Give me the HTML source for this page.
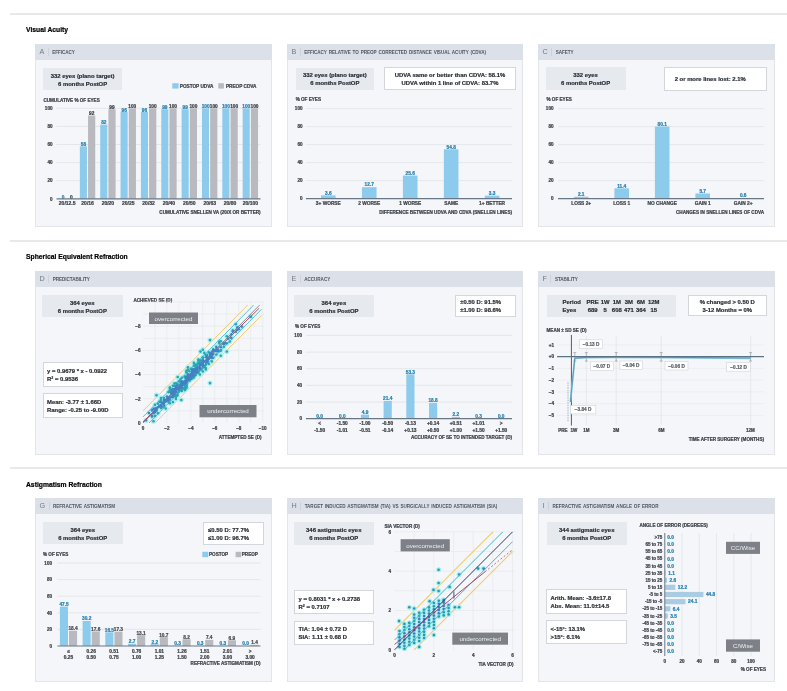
<!DOCTYPE html><html><head><meta charset="utf-8"><title>Refractive Outcomes</title><style>
*{margin:0;padding:0;box-sizing:border-box}
html,body{width:787px;height:691px;overflow:hidden;background:#fff}
body{position:relative;font-family:'Liberation Sans', Arial, sans-serif;color:#2b2f36}
.sep{position:absolute;left:10px;right:0;height:2px;background:#e8e9eb}
h2{position:absolute;left:26px;font-size:6.75px;font-weight:bold;color:#000;-webkit-text-stroke:0.2px #000;line-height:8px;white-space:nowrap}
.panel{position:absolute;background:#f5f6f9;border:1px solid #e3e5e9}
.hdr{position:absolute;left:-1px;top:-1px;right:-1px;height:16px;background:#dce1e9;display:flex;align-items:center;padding-left:4.5px}
.hdr .l{font-size:7.2px;line-height:9px;color:#737880;margin-right:3.6px;position:relative;top:-0.4px}
.hdr .s{width:0.8px;height:8px;background:#cdd2d9;margin-right:3.6px}
.hdr .t{font-size:4.6px;line-height:5px;letter-spacing:-0.05px;word-spacing:0.7px;font-weight:bold;color:#50555d;white-space:nowrap;position:relative;top:0.4px}
.info,.wbox{-webkit-text-stroke:0.2px #2b2f36;position:absolute;font-size:5.9px;font-weight:bold;line-height:8px;white-space:nowrap;display:flex;flex-direction:column;justify-content:center;color:#2b2f36;padding-top:1.2px}
.info{background:#e6e9ee;text-align:center}
.wbox{background:#fff;border:0.8px solid #d3d7dc;line-height:8px}
.wbox.one{}
.info table{border-collapse:collapse;margin:0 auto}
.info td{padding:0 1.1px;font-size:5.9px;line-height:8.6px;text-align:center}
.info td:first-child{text-align:left;padding-right:4.5px}
sup{font-size:3.6px;vertical-align:2.2px;line-height:0}
svg{position:absolute;left:0;top:0}
svg text{font-family:'Liberation Sans', Arial, sans-serif}
</style></head><body>
<div class="sep" style="top:12.5px"></div>
<div class="sep" style="top:240px"></div>
<div class="sep" style="top:467px"></div>
<h2 style="top:25.5px">Visual Acuity</h2>
<h2 style="top:252.5px">Spherical Equivalent Refraction</h2>
<h2 style="top:480.5px">Astigmatism Refraction</h2>
<div class="panel" style="left:35px;top:44px;width:237px;height:183px"><div class="hdr"><span class="l">A</span><span class="s"></span><span class="t">EFFICACY</span></div></div>
<div class="panel" style="left:287px;top:44px;width:236px;height:183px"><div class="hdr"><span class="l">B</span><span class="s"></span><span class="t">EFFICACY RELATIVE TO PREOP CORRECTED DISTANCE VISUAL ACUITY (CDVA)</span></div></div>
<div class="panel" style="left:538px;top:44px;width:237px;height:183px"><div class="hdr"><span class="l">C</span><span class="s"></span><span class="t">SAFETY</span></div></div>
<div class="panel" style="left:35px;top:271px;width:237px;height:184px"><div class="hdr"><span class="l">D</span><span class="s"></span><span class="t">PREDICTABILITY</span></div></div>
<div class="panel" style="left:287px;top:271px;width:236px;height:184px"><div class="hdr"><span class="l">E</span><span class="s"></span><span class="t">ACCURACY</span></div></div>
<div class="panel" style="left:538px;top:271px;width:237px;height:184px"><div class="hdr"><span class="l">F</span><span class="s"></span><span class="t">STABILITY</span></div></div>
<div class="panel" style="left:35px;top:498px;width:237px;height:184px"><div class="hdr"><span class="l">G</span><span class="s"></span><span class="t">REFRACTIVE ASTIGMATISM</span></div></div>
<div class="panel" style="left:287px;top:498px;width:236px;height:184px"><div class="hdr"><span class="l">H</span><span class="s"></span><span class="t">TARGET INDUCED ASTIGMATISM (TIA) VS SURGICALLY INDUCED ASTIGMATISM (SIA)</span></div></div>
<div class="panel" style="left:538px;top:498px;width:237px;height:184px"><div class="hdr"><span class="l">I</span><span class="s"></span><span class="t">REFRACTIVE ASTIGMATISM ANGLE OF ERROR</span></div></div>
<div class="info" style="left:43px;top:68px;width:79.2px;height:22.2px;text-align:center;padding-left:0px"><div>332 eyes (plano target)</div><div>6 months PostOP</div></div>
<div class="info" style="left:295.5px;top:67.6px;width:78.7px;height:22.5px;text-align:center;padding-left:0px"><div>332 eyes (plano target)</div><div>6 months PostOP</div></div>
<div class="wbox" style="left:384px;top:67.3px;width:132px;height:23px;text-align:center;padding-left:0px"><div>UDVA same or better than CDVA: 58.1%</div><div>UDVA within 1 line of CDVA: 83.7%</div></div>
<div class="info" style="left:545.6px;top:67.3px;width:80px;height:22.6px;text-align:center;padding-left:0px"><div>332 eyes</div><div>6 months PostOP</div></div>
<div class="wbox one" style="left:664.1px;top:67px;width:103.4px;height:23.5px;text-align:left;padding-left:9.6px"><div>2 or more lines lost: 2.1%</div></div>
<div class="info" style="left:42px;top:294.6px;width:80.6px;height:22.7px;text-align:center;padding-left:0px"><div>364 eyes</div><div>6 months PostOP</div></div>
<div class="wbox" style="left:43px;top:362px;width:79.7px;height:25.2px;text-align:left;padding-left:3px"><div>y = 0.9679 * x - 0.0922</div><div>R<sup>2</sup> = 0.9536</div></div>
<div class="wbox" style="left:43px;top:393.3px;width:79.5px;height:24.5px;text-align:left;padding-left:3px"><div>Mean: -3.77 &#177; 1.66D</div><div>Range: -0.25 to -9.00D</div></div>
<div class="info" style="left:294.1px;top:294.5px;width:79.6px;height:22.9px;text-align:center;padding-left:0px"><div>364 eyes</div><div>6 months PostOP</div></div>
<div class="wbox" style="left:455.2px;top:294.6px;width:60.4px;height:22.6px;text-align:left;padding-left:4px"><div>&#177;0.50 D: 91.5%</div><div>&#177;1.00 D: 98.6%</div></div>
<div class="info tbl" style="left:546.5px;top:294.5px;width:129px;height:22px"><table><tr><td>Period</td><td>PRE</td><td>1W</td><td>1M</td><td>3M</td><td>6M</td><td>12M</td></tr><tr><td>Eyes</td><td>689</td><td>5</td><td>608</td><td>471</td><td>364</td><td>15</td></tr></table></div>
<div class="wbox" style="left:687.5px;top:294.5px;width:79.5px;height:21px;text-align:center;padding-left:0px"><div>% changed &gt; 0.50 D</div><div>3-12 Months = 0%</div></div>
<div class="info" style="left:42.8px;top:522px;width:79.9px;height:22.3px;text-align:center;padding-left:0px"><div>364 eyes</div><div>6 months PostOP</div></div>
<div class="wbox" style="left:203.1px;top:521.9px;width:60.5px;height:23.4px;text-align:left;padding-left:4px"><div>&#8804;0.50 D: 77.7%</div><div>&#8804;1.00 D: 96.7%</div></div>
<div class="info" style="left:294px;top:522px;width:79.5px;height:22.6px;text-align:center;padding-left:0px"><div>346 astigmatic eyes</div><div>6 months PostOP</div></div>
<div class="wbox" style="left:294px;top:590.2px;width:80px;height:24.3px;text-align:left;padding-left:3.5px"><div>y = 0.8031 * x + 0.2738</div><div>R<sup>2</sup> = 0.7107</div></div>
<div class="wbox" style="left:294px;top:620.7px;width:80px;height:24px;text-align:left;padding-left:3.5px"><div>TIA: 1.04 &#177; 0.72 D</div><div>SIA: 1.11 &#177; 0.68 D</div></div>
<div class="info" style="left:546.5px;top:522px;width:80.5px;height:22.6px;text-align:center;padding-left:0px"><div>344 astigmatic eyes</div><div>6 months PostOP</div></div>
<div class="wbox" style="left:546px;top:589.4px;width:81px;height:25px;text-align:left;padding-left:3.5px"><div>Arith. Mean: -3.6&#177;17.8</div><div>Abs. Mean: 11.0&#177;14.5</div></div>
<div class="wbox" style="left:546px;top:620.2px;width:81px;height:24px;text-align:left;padding-left:3.5px"><div>&lt;-15&#176;: 13.1%</div><div>&gt;15&#176;: 6.1%</div></div>
<svg width="787" height="691" viewBox="0 0 787 691"><rect x="172.30" y="83.20" width="6.30" height="5.40" fill="#8dcbed" /><text x="179.8" y="87.6" font-size="4.7" text-anchor="start" fill="#3d4249" font-weight="bold" stroke="#3d4249" stroke-width="0.22" >POSTOP UDVA</text><rect x="218.30" y="83.20" width="5.60" height="5.40" fill="#b8babf" /><text x="225.9" y="87.6" font-size="4.7" text-anchor="start" fill="#3d4249" font-weight="bold" stroke="#3d4249" stroke-width="0.22" >PREOP CDVA</text><text x="43.4" y="101.7" font-size="4.6" text-anchor="start" fill="#3d4249" font-weight="bold" stroke="#3d4249" stroke-width="0.22" >CUMULATIVE % OF EYES</text><text x="52.5" y="110.0" font-size="4.6" text-anchor="end" fill="#3d4249" font-weight="bold" stroke="#3d4249" stroke-width="0.22" >100</text><text x="52.5" y="128.1" font-size="4.6" text-anchor="end" fill="#3d4249" font-weight="bold" stroke="#3d4249" stroke-width="0.22" >80</text><text x="52.5" y="146.2" font-size="4.6" text-anchor="end" fill="#3d4249" font-weight="bold" stroke="#3d4249" stroke-width="0.22" >60</text><text x="52.5" y="164.3" font-size="4.6" text-anchor="end" fill="#3d4249" font-weight="bold" stroke="#3d4249" stroke-width="0.22" >40</text><text x="52.5" y="182.4" font-size="4.6" text-anchor="end" fill="#3d4249" font-weight="bold" stroke="#3d4249" stroke-width="0.22" >20</text><text x="52.5" y="200.5" font-size="4.6" text-anchor="end" fill="#3d4249" font-weight="bold" stroke="#3d4249" stroke-width="0.22" >0</text><line x1="56.5" y1="108.3" x2="260.5" y2="108.3" stroke="#dfe2e7" stroke-width="0.8" /><line x1="56.5" y1="126.4" x2="260.5" y2="126.4" stroke="#dfe2e7" stroke-width="0.8" /><line x1="56.5" y1="144.5" x2="260.5" y2="144.5" stroke="#dfe2e7" stroke-width="0.8" /><line x1="56.5" y1="162.6" x2="260.5" y2="162.6" stroke="#dfe2e7" stroke-width="0.8" /><line x1="56.5" y1="180.7" x2="260.5" y2="180.7" stroke="#dfe2e7" stroke-width="0.8" /><rect x="59.50" y="198.80" width="7.10" height="0.00" fill="#8dcbed" /><rect x="67.70" y="198.80" width="7.20" height="0.00" fill="#b8babf" /><text x="63.1" y="198.5" font-size="4.75" text-anchor="middle" fill="#2580b0" font-weight="bold" stroke="#2580b0" stroke-width="0.22" >0</text><text x="71.3" y="198.5" font-size="4.75" text-anchor="middle" fill="#3a3e44" font-weight="bold" stroke="#3a3e44" stroke-width="0.22" >0</text><text x="67.2" y="205.2" font-size="5.0" text-anchor="middle" fill="#3d4249" font-weight="bold" stroke="#3d4249" stroke-width="0.22" >20/12.5</text><rect x="79.85" y="146.31" width="7.10" height="52.49" fill="#8dcbed" /><rect x="88.05" y="115.54" width="7.20" height="83.26" fill="#b8babf" /><text x="83.5" y="146.0" font-size="4.75" text-anchor="middle" fill="#2580b0" font-weight="bold" stroke="#2580b0" stroke-width="0.22" >58</text><text x="91.7" y="115.2" font-size="4.75" text-anchor="middle" fill="#3a3e44" font-weight="bold" stroke="#3a3e44" stroke-width="0.22" >92</text><text x="87.6" y="205.2" font-size="5.0" text-anchor="middle" fill="#3d4249" font-weight="bold" stroke="#3d4249" stroke-width="0.22" >20/16</text><rect x="100.20" y="124.59" width="7.10" height="74.21" fill="#8dcbed" /><rect x="108.40" y="109.21" width="7.20" height="89.59" fill="#b8babf" /><text x="103.8" y="124.3" font-size="4.75" text-anchor="middle" fill="#2580b0" font-weight="bold" stroke="#2580b0" stroke-width="0.22" >82</text><text x="112.0" y="108.9" font-size="4.75" text-anchor="middle" fill="#3a3e44" font-weight="bold" stroke="#3a3e44" stroke-width="0.22" >99</text><text x="107.9" y="205.2" font-size="5.0" text-anchor="middle" fill="#3d4249" font-weight="bold" stroke="#3d4249" stroke-width="0.22" >20/20</text><rect x="120.55" y="111.92" width="7.10" height="86.88" fill="#8dcbed" /><rect x="128.75" y="108.30" width="7.20" height="90.50" fill="#b8babf" /><text x="124.2" y="111.6" font-size="4.75" text-anchor="middle" fill="#2580b0" font-weight="bold" stroke="#2580b0" stroke-width="0.22" >96</text><text x="132.3" y="108.0" font-size="4.75" text-anchor="middle" fill="#3a3e44" font-weight="bold" stroke="#3a3e44" stroke-width="0.22" >100</text><text x="128.2" y="205.2" font-size="5.0" text-anchor="middle" fill="#3d4249" font-weight="bold" stroke="#3d4249" stroke-width="0.22" >20/25</text><rect x="140.90" y="111.92" width="7.10" height="86.88" fill="#8dcbed" /><rect x="149.10" y="108.30" width="7.20" height="90.50" fill="#b8babf" /><text x="144.5" y="111.6" font-size="4.75" text-anchor="middle" fill="#2580b0" font-weight="bold" stroke="#2580b0" stroke-width="0.22" >96</text><text x="152.7" y="108.0" font-size="4.75" text-anchor="middle" fill="#3a3e44" font-weight="bold" stroke="#3a3e44" stroke-width="0.22" >100</text><text x="148.6" y="205.2" font-size="5.0" text-anchor="middle" fill="#3d4249" font-weight="bold" stroke="#3d4249" stroke-width="0.22" >20/32</text><rect x="161.25" y="109.21" width="7.10" height="89.59" fill="#8dcbed" /><rect x="169.45" y="108.30" width="7.20" height="90.50" fill="#b8babf" /><text x="164.8" y="108.9" font-size="4.75" text-anchor="middle" fill="#2580b0" font-weight="bold" stroke="#2580b0" stroke-width="0.22" >99</text><text x="173.0" y="108.0" font-size="4.75" text-anchor="middle" fill="#3a3e44" font-weight="bold" stroke="#3a3e44" stroke-width="0.22" >100</text><text x="168.9" y="205.2" font-size="5.0" text-anchor="middle" fill="#3d4249" font-weight="bold" stroke="#3d4249" stroke-width="0.22" >20/40</text><rect x="181.60" y="109.21" width="7.10" height="89.59" fill="#8dcbed" /><rect x="189.80" y="108.30" width="7.20" height="90.50" fill="#b8babf" /><text x="185.2" y="108.9" font-size="4.75" text-anchor="middle" fill="#2580b0" font-weight="bold" stroke="#2580b0" stroke-width="0.22" >99</text><text x="193.4" y="108.0" font-size="4.75" text-anchor="middle" fill="#3a3e44" font-weight="bold" stroke="#3a3e44" stroke-width="0.22" >100</text><text x="189.3" y="205.2" font-size="5.0" text-anchor="middle" fill="#3d4249" font-weight="bold" stroke="#3d4249" stroke-width="0.22" >20/50</text><rect x="201.95" y="108.30" width="7.10" height="90.50" fill="#8dcbed" /><rect x="210.15" y="108.30" width="7.20" height="90.50" fill="#b8babf" /><text x="205.6" y="108.0" font-size="4.75" text-anchor="middle" fill="#2580b0" font-weight="bold" stroke="#2580b0" stroke-width="0.22" >100</text><text x="213.8" y="108.0" font-size="4.75" text-anchor="middle" fill="#3a3e44" font-weight="bold" stroke="#3a3e44" stroke-width="0.22" >100</text><text x="209.7" y="205.2" font-size="5.0" text-anchor="middle" fill="#3d4249" font-weight="bold" stroke="#3d4249" stroke-width="0.22" >20/63</text><rect x="222.30" y="108.30" width="7.10" height="90.50" fill="#8dcbed" /><rect x="230.50" y="108.30" width="7.20" height="90.50" fill="#b8babf" /><text x="225.9" y="108.0" font-size="4.75" text-anchor="middle" fill="#2580b0" font-weight="bold" stroke="#2580b0" stroke-width="0.22" >100</text><text x="234.1" y="108.0" font-size="4.75" text-anchor="middle" fill="#3a3e44" font-weight="bold" stroke="#3a3e44" stroke-width="0.22" >100</text><text x="230.0" y="205.2" font-size="5.0" text-anchor="middle" fill="#3d4249" font-weight="bold" stroke="#3d4249" stroke-width="0.22" >20/80</text><rect x="242.65" y="108.30" width="7.10" height="90.50" fill="#8dcbed" /><rect x="250.85" y="108.30" width="7.20" height="90.50" fill="#b8babf" /><text x="246.3" y="108.0" font-size="4.75" text-anchor="middle" fill="#2580b0" font-weight="bold" stroke="#2580b0" stroke-width="0.22" >100</text><text x="254.5" y="108.0" font-size="4.75" text-anchor="middle" fill="#3a3e44" font-weight="bold" stroke="#3a3e44" stroke-width="0.22" >100</text><text x="250.4" y="205.2" font-size="5.0" text-anchor="middle" fill="#3d4249" font-weight="bold" stroke="#3d4249" stroke-width="0.22" >20/100</text><line x1="56.5" y1="198.8" x2="260.5" y2="198.8" stroke="#687787" stroke-width="1.2" /><text x="260.6" y="213.9" font-size="4.6" text-anchor="end" fill="#3d4249" font-weight="bold" stroke="#3d4249" stroke-width="0.22" >CUMULATIVE SNELLEN VA (20/X OR BETTER)</text><text x="295.7" y="101.2" font-size="4.6" text-anchor="start" fill="#3d4249" font-weight="bold" stroke="#3d4249" stroke-width="0.22" >% OF EYES</text><text x="302.5" y="110.3" font-size="4.6" text-anchor="end" fill="#3d4249" font-weight="bold" stroke="#3d4249" stroke-width="0.22" >100</text><text x="302.5" y="128.3" font-size="4.6" text-anchor="end" fill="#3d4249" font-weight="bold" stroke="#3d4249" stroke-width="0.22" >80</text><text x="302.5" y="146.3" font-size="4.6" text-anchor="end" fill="#3d4249" font-weight="bold" stroke="#3d4249" stroke-width="0.22" >60</text><text x="302.5" y="164.3" font-size="4.6" text-anchor="end" fill="#3d4249" font-weight="bold" stroke="#3d4249" stroke-width="0.22" >40</text><text x="302.5" y="182.3" font-size="4.6" text-anchor="end" fill="#3d4249" font-weight="bold" stroke="#3d4249" stroke-width="0.22" >20</text><text x="302.5" y="200.3" font-size="4.6" text-anchor="end" fill="#3d4249" font-weight="bold" stroke="#3d4249" stroke-width="0.22" >0</text><line x1="306.0" y1="108.6" x2="512.0" y2="108.6" stroke="#dfe2e7" stroke-width="0.8" /><line x1="306.0" y1="126.6" x2="512.0" y2="126.6" stroke="#dfe2e7" stroke-width="0.8" /><line x1="306.0" y1="144.6" x2="512.0" y2="144.6" stroke="#dfe2e7" stroke-width="0.8" /><line x1="306.0" y1="162.6" x2="512.0" y2="162.6" stroke="#dfe2e7" stroke-width="0.8" /><line x1="306.0" y1="180.6" x2="512.0" y2="180.6" stroke="#dfe2e7" stroke-width="0.8" /><rect x="321.00" y="195.36" width="14.60" height="3.24" fill="#8dcbed" /><text x="328.3" y="194.6" font-size="4.75" text-anchor="middle" fill="#2580b0" font-weight="bold" stroke="#2580b0" stroke-width="0.22" >3.6</text><text x="328.3" y="205.0" font-size="4.8" text-anchor="middle" fill="#3d4249" font-weight="bold" stroke="#3d4249" stroke-width="0.22" >3+ WORSE</text><rect x="361.95" y="187.17" width="14.60" height="11.43" fill="#8dcbed" /><text x="369.2" y="186.4" font-size="4.75" text-anchor="middle" fill="#2580b0" font-weight="bold" stroke="#2580b0" stroke-width="0.22" >12.7</text><text x="369.2" y="205.0" font-size="4.8" text-anchor="middle" fill="#3d4249" font-weight="bold" stroke="#3d4249" stroke-width="0.22" >2 WORSE</text><rect x="402.90" y="175.56" width="14.60" height="23.04" fill="#8dcbed" /><text x="410.2" y="174.8" font-size="4.75" text-anchor="middle" fill="#2580b0" font-weight="bold" stroke="#2580b0" stroke-width="0.22" >25.6</text><text x="410.2" y="205.0" font-size="4.8" text-anchor="middle" fill="#3d4249" font-weight="bold" stroke="#3d4249" stroke-width="0.22" >1 WORSE</text><rect x="443.85" y="149.28" width="14.60" height="49.32" fill="#8dcbed" /><text x="451.2" y="148.5" font-size="4.75" text-anchor="middle" fill="#2580b0" font-weight="bold" stroke="#2580b0" stroke-width="0.22" >54.8</text><text x="451.2" y="205.0" font-size="4.8" text-anchor="middle" fill="#3d4249" font-weight="bold" stroke="#3d4249" stroke-width="0.22" >SAME</text><rect x="484.80" y="195.63" width="14.60" height="2.97" fill="#8dcbed" /><text x="492.1" y="194.8" font-size="4.75" text-anchor="middle" fill="#2580b0" font-weight="bold" stroke="#2580b0" stroke-width="0.22" >3.3</text><text x="492.1" y="205.0" font-size="4.8" text-anchor="middle" fill="#3d4249" font-weight="bold" stroke="#3d4249" stroke-width="0.22" >1+ BETTER</text><line x1="306.0" y1="198.6" x2="512.0" y2="198.6" stroke="#687787" stroke-width="1.2" /><text x="512.0" y="213.5" font-size="4.6" text-anchor="end" fill="#3d4249" font-weight="bold" stroke="#3d4249" stroke-width="0.22" >DIFFERENCE BETWEEN UDVA AND CDVA (SNELLEN LINES)</text><text x="546.5" y="101.2" font-size="4.6" text-anchor="start" fill="#3d4249" font-weight="bold" stroke="#3d4249" stroke-width="0.22" >% OF EYES</text><text x="553.5" y="110.3" font-size="4.6" text-anchor="end" fill="#3d4249" font-weight="bold" stroke="#3d4249" stroke-width="0.22" >100</text><text x="553.5" y="128.3" font-size="4.6" text-anchor="end" fill="#3d4249" font-weight="bold" stroke="#3d4249" stroke-width="0.22" >80</text><text x="553.5" y="146.3" font-size="4.6" text-anchor="end" fill="#3d4249" font-weight="bold" stroke="#3d4249" stroke-width="0.22" >60</text><text x="553.5" y="164.3" font-size="4.6" text-anchor="end" fill="#3d4249" font-weight="bold" stroke="#3d4249" stroke-width="0.22" >40</text><text x="553.5" y="182.3" font-size="4.6" text-anchor="end" fill="#3d4249" font-weight="bold" stroke="#3d4249" stroke-width="0.22" >20</text><text x="553.5" y="200.3" font-size="4.6" text-anchor="end" fill="#3d4249" font-weight="bold" stroke="#3d4249" stroke-width="0.22" >0</text><line x1="558.0" y1="108.6" x2="764.0" y2="108.6" stroke="#dfe2e7" stroke-width="0.8" /><line x1="558.0" y1="126.6" x2="764.0" y2="126.6" stroke="#dfe2e7" stroke-width="0.8" /><line x1="558.0" y1="144.6" x2="764.0" y2="144.6" stroke="#dfe2e7" stroke-width="0.8" /><line x1="558.0" y1="162.6" x2="764.0" y2="162.6" stroke="#dfe2e7" stroke-width="0.8" /><line x1="558.0" y1="180.6" x2="764.0" y2="180.6" stroke="#dfe2e7" stroke-width="0.8" /><rect x="573.90" y="196.71" width="14.60" height="1.89" fill="#8dcbed" /><text x="581.2" y="195.9" font-size="4.75" text-anchor="middle" fill="#2580b0" font-weight="bold" stroke="#2580b0" stroke-width="0.22" >2.1</text><text x="581.2" y="205.0" font-size="4.8" text-anchor="middle" fill="#3d4249" font-weight="bold" stroke="#3d4249" stroke-width="0.22" >LOSS 2+</text><rect x="614.40" y="188.34" width="14.60" height="10.26" fill="#8dcbed" /><text x="621.7" y="187.6" font-size="4.75" text-anchor="middle" fill="#2580b0" font-weight="bold" stroke="#2580b0" stroke-width="0.22" >11.4</text><text x="621.7" y="205.0" font-size="4.8" text-anchor="middle" fill="#3d4249" font-weight="bold" stroke="#3d4249" stroke-width="0.22" >LOSS 1</text><rect x="654.90" y="126.51" width="14.60" height="72.09" fill="#8dcbed" /><text x="662.2" y="125.7" font-size="4.75" text-anchor="middle" fill="#2580b0" font-weight="bold" stroke="#2580b0" stroke-width="0.22" >80.1</text><text x="662.2" y="205.0" font-size="4.8" text-anchor="middle" fill="#3d4249" font-weight="bold" stroke="#3d4249" stroke-width="0.22" >NO CHANGE</text><rect x="695.40" y="193.47" width="14.60" height="5.13" fill="#8dcbed" /><text x="702.7" y="192.7" font-size="4.75" text-anchor="middle" fill="#2580b0" font-weight="bold" stroke="#2580b0" stroke-width="0.22" >5.7</text><text x="702.7" y="205.0" font-size="4.8" text-anchor="middle" fill="#3d4249" font-weight="bold" stroke="#3d4249" stroke-width="0.22" >GAIN 1</text><rect x="735.90" y="198.06" width="14.60" height="0.54" fill="#8dcbed" /><text x="743.2" y="197.3" font-size="4.75" text-anchor="middle" fill="#2580b0" font-weight="bold" stroke="#2580b0" stroke-width="0.22" >0.6</text><text x="743.2" y="205.0" font-size="4.8" text-anchor="middle" fill="#3d4249" font-weight="bold" stroke="#3d4249" stroke-width="0.22" >GAIN 2+</text><line x1="558.0" y1="198.6" x2="764.0" y2="198.6" stroke="#687787" stroke-width="1.2" /><text x="764.0" y="213.6" font-size="4.6" text-anchor="end" fill="#3d4249" font-weight="bold" stroke="#3d4249" stroke-width="0.22" >CHANGES IN SNELLEN LINES OF CDVA</text><text x="133.4" y="301.7" font-size="4.6" text-anchor="start" fill="#3d4249" font-weight="bold" stroke="#3d4249" stroke-width="0.22" >ACHIEVED SE (D)</text><line x1="155.0" y1="302.0" x2="155.0" y2="423.0" stroke="#e3e6ea" stroke-width="0.6" /><line x1="143.0" y1="410.9" x2="264.0" y2="410.9" stroke="#e3e6ea" stroke-width="0.6" /><line x1="166.9" y1="302.0" x2="166.9" y2="423.0" stroke="#e3e6ea" stroke-width="0.6" /><line x1="143.0" y1="398.8" x2="264.0" y2="398.8" stroke="#e3e6ea" stroke-width="0.6" /><line x1="178.9" y1="302.0" x2="178.9" y2="423.0" stroke="#e3e6ea" stroke-width="0.6" /><line x1="143.0" y1="386.7" x2="264.0" y2="386.7" stroke="#e3e6ea" stroke-width="0.6" /><line x1="190.9" y1="302.0" x2="190.9" y2="423.0" stroke="#e3e6ea" stroke-width="0.6" /><line x1="143.0" y1="374.6" x2="264.0" y2="374.6" stroke="#e3e6ea" stroke-width="0.6" /><line x1="202.8" y1="302.0" x2="202.8" y2="423.0" stroke="#e3e6ea" stroke-width="0.6" /><line x1="143.0" y1="362.5" x2="264.0" y2="362.5" stroke="#e3e6ea" stroke-width="0.6" /><line x1="214.8" y1="302.0" x2="214.8" y2="423.0" stroke="#e3e6ea" stroke-width="0.6" /><line x1="143.0" y1="350.4" x2="264.0" y2="350.4" stroke="#e3e6ea" stroke-width="0.6" /><line x1="226.8" y1="302.0" x2="226.8" y2="423.0" stroke="#e3e6ea" stroke-width="0.6" /><line x1="143.0" y1="338.3" x2="264.0" y2="338.3" stroke="#e3e6ea" stroke-width="0.6" /><line x1="238.8" y1="302.0" x2="238.8" y2="423.0" stroke="#e3e6ea" stroke-width="0.6" /><line x1="143.0" y1="326.2" x2="264.0" y2="326.2" stroke="#e3e6ea" stroke-width="0.6" /><line x1="250.7" y1="302.0" x2="250.7" y2="423.0" stroke="#e3e6ea" stroke-width="0.6" /><line x1="143.0" y1="314.1" x2="264.0" y2="314.1" stroke="#e3e6ea" stroke-width="0.6" /><line x1="262.7" y1="302.0" x2="262.7" y2="423.0" stroke="#e3e6ea" stroke-width="0.6" /><line x1="143.0" y1="302.0" x2="264.0" y2="302.0" stroke="#e3e6ea" stroke-width="0.6" /><text x="143.0" y="430.2" font-size="4.6" text-anchor="middle" fill="#3d4249" font-weight="bold" stroke="#3d4249" stroke-width="0.22" >0</text><text x="166.9" y="430.2" font-size="4.6" text-anchor="middle" fill="#3d4249" font-weight="bold" stroke="#3d4249" stroke-width="0.22" >&#8722;2</text><text x="190.9" y="430.2" font-size="4.6" text-anchor="middle" fill="#3d4249" font-weight="bold" stroke="#3d4249" stroke-width="0.22" >&#8722;4</text><text x="214.8" y="430.2" font-size="4.6" text-anchor="middle" fill="#3d4249" font-weight="bold" stroke="#3d4249" stroke-width="0.22" >&#8722;6</text><text x="238.8" y="430.2" font-size="4.6" text-anchor="middle" fill="#3d4249" font-weight="bold" stroke="#3d4249" stroke-width="0.22" >&#8722;8</text><text x="262.7" y="430.2" font-size="4.6" text-anchor="middle" fill="#3d4249" font-weight="bold" stroke="#3d4249" stroke-width="0.22" >&#8722;10</text><text x="140.5" y="424.7" font-size="4.6" text-anchor="end" fill="#3d4249" font-weight="bold" stroke="#3d4249" stroke-width="0.22" >0</text><text x="140.5" y="400.5" font-size="4.6" text-anchor="end" fill="#3d4249" font-weight="bold" stroke="#3d4249" stroke-width="0.22" >&#8722;2</text><text x="140.5" y="376.3" font-size="4.6" text-anchor="end" fill="#3d4249" font-weight="bold" stroke="#3d4249" stroke-width="0.22" >&#8722;4</text><text x="140.5" y="352.1" font-size="4.6" text-anchor="end" fill="#3d4249" font-weight="bold" stroke="#3d4249" stroke-width="0.22" >&#8722;6</text><text x="140.5" y="327.9" font-size="4.6" text-anchor="end" fill="#3d4249" font-weight="bold" stroke="#3d4249" stroke-width="0.22" >&#8722;8</text><text x="261.6" y="438.7" font-size="4.6" text-anchor="end" fill="#3d4249" font-weight="bold" stroke="#3d4249" stroke-width="0.22" >ATTEMPTED SE (D)</text><line x1="143.0" y1="410.9" x2="247.7" y2="305.0" stroke="#f0cc6e" stroke-width="1.0" /><line x1="155.0" y1="423.0" x2="261.5" y2="315.3" stroke="#f0cc6e" stroke-width="1.0" /><g fill="#abf0f5"><circle cx="163.9" cy="399.9" r="2.6"/><circle cx="207.3" cy="360.9" r="2.6"/><circle cx="162.5" cy="403.1" r="2.6"/><circle cx="198.4" cy="363.5" r="2.6"/><circle cx="163.9" cy="406.4" r="2.6"/><circle cx="202.8" cy="361.5" r="2.6"/><circle cx="219.3" cy="343.4" r="2.6"/><circle cx="186.4" cy="380.5" r="2.6"/><circle cx="238.8" cy="329.3" r="2.6"/><circle cx="172.9" cy="397.0" r="2.6"/><circle cx="189.4" cy="375.9" r="2.6"/><circle cx="181.9" cy="384.1" r="2.6"/><circle cx="193.9" cy="369.4" r="2.6"/><circle cx="210.3" cy="355.2" r="2.6"/><circle cx="152.0" cy="410.4" r="2.6"/><circle cx="159.5" cy="406.4" r="2.6"/><circle cx="159.5" cy="405.8" r="2.6"/><circle cx="172.9" cy="391.8" r="2.6"/><circle cx="250.7" cy="316.7" r="2.6"/><circle cx="204.3" cy="367.0" r="2.6"/><circle cx="181.9" cy="381.3" r="2.6"/><circle cx="186.4" cy="378.0" r="2.6"/><circle cx="190.9" cy="378.9" r="2.6"/><circle cx="199.9" cy="369.4" r="2.6"/><circle cx="225.3" cy="343.3" r="2.6"/><circle cx="201.4" cy="364.8" r="2.6"/><circle cx="207.3" cy="361.3" r="2.6"/><circle cx="207.3" cy="359.4" r="2.6"/><circle cx="213.3" cy="350.7" r="2.6"/><circle cx="190.9" cy="378.1" r="2.6"/><circle cx="202.8" cy="361.5" r="2.6"/><circle cx="220.8" cy="347.2" r="2.6"/><circle cx="199.9" cy="364.3" r="2.6"/><circle cx="193.9" cy="371.3" r="2.6"/><circle cx="192.4" cy="375.9" r="2.6"/><circle cx="168.4" cy="398.5" r="2.6"/><circle cx="199.9" cy="360.4" r="2.6"/><circle cx="207.3" cy="354.9" r="2.6"/><circle cx="202.8" cy="360.6" r="2.6"/><circle cx="192.4" cy="370.6" r="2.6"/><circle cx="223.8" cy="344.1" r="2.6"/><circle cx="174.4" cy="383.6" r="2.6"/><circle cx="192.4" cy="369.8" r="2.6"/><circle cx="205.8" cy="364.8" r="2.6"/><circle cx="235.8" cy="324.2" r="2.6"/><circle cx="192.4" cy="370.7" r="2.6"/><circle cx="190.9" cy="378.5" r="2.6"/><circle cx="186.4" cy="378.0" r="2.6"/><circle cx="210.3" cy="353.3" r="2.6"/><circle cx="189.4" cy="371.3" r="2.6"/><circle cx="172.9" cy="389.5" r="2.6"/><circle cx="210.3" cy="357.1" r="2.6"/><circle cx="152.0" cy="416.6" r="2.6"/><circle cx="192.4" cy="371.5" r="2.6"/><circle cx="219.3" cy="351.1" r="2.6"/><circle cx="187.9" cy="375.5" r="2.6"/><circle cx="184.9" cy="390.1" r="2.6"/><circle cx="204.3" cy="352.9" r="2.6"/><circle cx="207.3" cy="362.5" r="2.6"/><circle cx="180.4" cy="384.4" r="2.6"/><circle cx="237.3" cy="327.3" r="2.6"/><circle cx="190.9" cy="369.0" r="2.6"/><circle cx="186.4" cy="372.2" r="2.6"/><circle cx="174.4" cy="393.0" r="2.6"/><circle cx="202.8" cy="357.8" r="2.6"/><circle cx="201.4" cy="363.6" r="2.6"/><circle cx="152.0" cy="415.9" r="2.6"/><circle cx="175.9" cy="391.7" r="2.6"/><circle cx="199.9" cy="367.6" r="2.6"/><circle cx="204.3" cy="361.5" r="2.6"/><circle cx="181.9" cy="383.4" r="2.6"/><circle cx="196.9" cy="365.9" r="2.6"/><circle cx="178.9" cy="387.7" r="2.6"/><circle cx="161.0" cy="398.1" r="2.6"/><circle cx="216.3" cy="350.8" r="2.6"/><circle cx="178.9" cy="391.5" r="2.6"/><circle cx="190.9" cy="374.2" r="2.6"/><circle cx="231.3" cy="334.6" r="2.6"/><circle cx="172.9" cy="402.1" r="2.6"/><circle cx="216.3" cy="349.4" r="2.6"/><circle cx="156.5" cy="408.0" r="2.6"/><circle cx="156.5" cy="395.2" r="2.6"/><circle cx="210.3" cy="353.8" r="2.6"/><circle cx="184.9" cy="389.2" r="2.6"/><circle cx="184.9" cy="386.9" r="2.6"/><circle cx="199.9" cy="374.5" r="2.6"/><circle cx="169.9" cy="390.8" r="2.6"/><circle cx="220.8" cy="350.3" r="2.6"/><circle cx="158.0" cy="403.8" r="2.6"/><circle cx="204.3" cy="365.7" r="2.6"/><circle cx="174.4" cy="393.8" r="2.6"/><circle cx="163.9" cy="404.0" r="2.6"/><circle cx="213.3" cy="350.4" r="2.6"/><circle cx="228.3" cy="338.8" r="2.6"/><circle cx="184.9" cy="384.7" r="2.6"/><circle cx="186.4" cy="384.5" r="2.6"/><circle cx="153.5" cy="408.9" r="2.6"/><circle cx="216.3" cy="346.9" r="2.6"/><circle cx="214.8" cy="350.6" r="2.6"/><circle cx="174.4" cy="390.8" r="2.6"/><circle cx="180.4" cy="389.6" r="2.6"/><circle cx="155.0" cy="415.9" r="2.6"/><circle cx="187.9" cy="377.4" r="2.6"/><circle cx="178.9" cy="381.2" r="2.6"/><circle cx="192.4" cy="371.3" r="2.6"/><circle cx="211.8" cy="357.7" r="2.6"/><circle cx="149.0" cy="413.1" r="2.6"/><circle cx="174.4" cy="386.1" r="2.6"/><circle cx="195.4" cy="366.7" r="2.6"/><circle cx="202.8" cy="371.4" r="2.6"/><circle cx="202.8" cy="365.9" r="2.6"/><circle cx="172.9" cy="394.3" r="2.6"/><circle cx="202.8" cy="359.9" r="2.6"/><circle cx="208.8" cy="363.9" r="2.6"/><circle cx="175.9" cy="398.9" r="2.6"/><circle cx="186.4" cy="377.1" r="2.6"/><circle cx="172.9" cy="391.7" r="2.6"/><circle cx="192.4" cy="369.7" r="2.6"/><circle cx="171.4" cy="397.3" r="2.6"/><circle cx="172.9" cy="385.8" r="2.6"/><circle cx="210.3" cy="356.5" r="2.6"/><circle cx="192.4" cy="373.1" r="2.6"/><circle cx="192.4" cy="374.4" r="2.6"/><circle cx="181.9" cy="388.7" r="2.6"/><circle cx="175.9" cy="383.3" r="2.6"/><circle cx="198.4" cy="367.5" r="2.6"/><circle cx="183.4" cy="382.1" r="2.6"/><circle cx="195.4" cy="373.1" r="2.6"/><circle cx="192.4" cy="372.6" r="2.6"/><circle cx="172.9" cy="395.7" r="2.6"/><circle cx="168.4" cy="401.1" r="2.6"/><circle cx="205.8" cy="369.5" r="2.6"/><circle cx="183.4" cy="384.7" r="2.6"/><circle cx="175.9" cy="389.3" r="2.6"/><circle cx="210.3" cy="355.7" r="2.6"/><circle cx="184.9" cy="383.3" r="2.6"/><circle cx="184.9" cy="377.4" r="2.6"/><circle cx="180.4" cy="389.7" r="2.6"/><circle cx="162.5" cy="407.1" r="2.6"/><circle cx="161.0" cy="400.1" r="2.6"/><circle cx="195.4" cy="371.6" r="2.6"/><circle cx="217.8" cy="351.2" r="2.6"/><circle cx="202.8" cy="360.2" r="2.6"/><circle cx="158.0" cy="413.3" r="2.6"/><circle cx="169.9" cy="392.0" r="2.6"/><circle cx="213.3" cy="357.8" r="2.6"/><circle cx="208.8" cy="359.0" r="2.6"/><circle cx="180.4" cy="387.4" r="2.6"/><circle cx="181.9" cy="390.9" r="2.6"/><circle cx="168.4" cy="401.8" r="2.6"/><circle cx="198.4" cy="359.6" r="2.6"/><circle cx="241.8" cy="326.6" r="2.6"/><circle cx="153.5" cy="413.2" r="2.6"/><circle cx="169.9" cy="387.9" r="2.6"/><circle cx="199.9" cy="369.1" r="2.6"/><circle cx="207.3" cy="356.9" r="2.6"/><circle cx="156.5" cy="410.8" r="2.6"/><circle cx="183.4" cy="382.3" r="2.6"/><circle cx="190.9" cy="376.4" r="2.6"/><circle cx="192.4" cy="375.8" r="2.6"/><circle cx="169.9" cy="389.7" r="2.6"/><circle cx="195.4" cy="368.9" r="2.6"/><circle cx="156.5" cy="409.4" r="2.6"/><circle cx="204.3" cy="366.9" r="2.6"/><circle cx="210.3" cy="357.5" r="2.6"/><circle cx="196.9" cy="369.7" r="2.6"/><circle cx="192.4" cy="368.9" r="2.6"/><circle cx="180.4" cy="379.2" r="2.6"/><circle cx="172.9" cy="396.2" r="2.6"/><circle cx="202.8" cy="367.5" r="2.6"/><circle cx="180.4" cy="381.8" r="2.6"/><circle cx="211.8" cy="361.4" r="2.6"/><circle cx="198.4" cy="360.4" r="2.6"/><circle cx="211.8" cy="355.5" r="2.6"/><circle cx="175.9" cy="390.8" r="2.6"/><circle cx="165.4" cy="400.9" r="2.6"/><circle cx="184.9" cy="381.5" r="2.6"/><circle cx="211.8" cy="355.4" r="2.6"/><circle cx="159.5" cy="401.7" r="2.6"/><circle cx="166.9" cy="400.2" r="2.6"/><circle cx="184.9" cy="382.2" r="2.6"/><circle cx="168.4" cy="398.0" r="2.6"/><circle cx="231.3" cy="337.9" r="2.6"/><circle cx="184.9" cy="376.5" r="2.6"/><circle cx="202.8" cy="360.4" r="2.6"/><circle cx="205.8" cy="368.0" r="2.6"/><circle cx="171.4" cy="393.6" r="2.6"/><circle cx="198.4" cy="362.7" r="2.6"/><circle cx="196.9" cy="370.1" r="2.6"/><circle cx="189.4" cy="377.3" r="2.6"/><circle cx="192.4" cy="371.0" r="2.6"/><circle cx="181.9" cy="387.0" r="2.6"/><circle cx="171.4" cy="389.8" r="2.6"/><circle cx="213.3" cy="349.2" r="2.6"/><circle cx="205.8" cy="357.2" r="2.6"/><circle cx="187.9" cy="375.4" r="2.6"/><circle cx="166.9" cy="399.2" r="2.6"/><circle cx="172.9" cy="389.8" r="2.6"/><circle cx="175.9" cy="390.1" r="2.6"/><circle cx="195.4" cy="365.4" r="2.6"/><circle cx="172.9" cy="396.2" r="2.6"/><circle cx="204.3" cy="366.1" r="2.6"/><circle cx="196.9" cy="371.4" r="2.6"/><circle cx="186.4" cy="386.5" r="2.6"/><circle cx="202.8" cy="365.3" r="2.6"/><circle cx="169.9" cy="387.5" r="2.6"/><circle cx="202.8" cy="349.7" r="2.6"/><circle cx="196.9" cy="370.5" r="2.6"/><circle cx="190.9" cy="368.8" r="2.6"/><circle cx="187.9" cy="376.2" r="2.6"/><circle cx="198.4" cy="371.2" r="2.6"/><circle cx="190.9" cy="377.0" r="2.6"/><circle cx="163.9" cy="398.0" r="2.6"/><circle cx="201.4" cy="364.5" r="2.6"/><circle cx="169.9" cy="403.3" r="2.6"/><circle cx="198.4" cy="368.1" r="2.6"/><circle cx="155.0" cy="410.4" r="2.6"/><circle cx="158.0" cy="407.3" r="2.6"/><circle cx="190.9" cy="373.7" r="2.6"/><circle cx="192.4" cy="372.9" r="2.6"/><circle cx="165.4" cy="401.4" r="2.6"/><circle cx="177.4" cy="389.1" r="2.6"/><circle cx="193.9" cy="369.7" r="2.6"/><circle cx="220.8" cy="355.7" r="2.6"/><circle cx="195.4" cy="371.4" r="2.6"/><circle cx="232.8" cy="330.4" r="2.6"/><circle cx="155.0" cy="408.6" r="2.6"/><circle cx="177.4" cy="384.4" r="2.6"/><circle cx="166.9" cy="398.9" r="2.6"/><circle cx="184.9" cy="381.3" r="2.6"/><circle cx="175.9" cy="396.8" r="2.6"/><circle cx="196.9" cy="365.3" r="2.6"/><circle cx="186.4" cy="383.4" r="2.6"/><circle cx="192.4" cy="371.4" r="2.6"/><circle cx="184.9" cy="380.9" r="2.6"/><circle cx="216.3" cy="354.5" r="2.6"/><circle cx="177.4" cy="395.6" r="2.6"/><circle cx="174.4" cy="394.0" r="2.6"/><circle cx="168.4" cy="399.7" r="2.6"/><circle cx="223.8" cy="343.6" r="2.6"/><circle cx="186.4" cy="370.9" r="2.6"/><circle cx="186.4" cy="386.1" r="2.6"/><circle cx="196.9" cy="372.8" r="2.6"/><circle cx="220.8" cy="350.6" r="2.6"/><circle cx="175.9" cy="395.9" r="2.6"/><circle cx="189.4" cy="380.4" r="2.6"/><circle cx="186.4" cy="380.9" r="2.6"/><circle cx="175.9" cy="386.0" r="2.6"/><circle cx="207.3" cy="358.7" r="2.6"/><circle cx="169.9" cy="399.7" r="2.6"/><circle cx="193.9" cy="362.9" r="2.6"/><circle cx="178.9" cy="389.8" r="2.6"/><circle cx="174.4" cy="395.4" r="2.6"/><circle cx="168.4" cy="397.8" r="2.6"/><circle cx="216.3" cy="350.2" r="2.6"/><circle cx="177.4" cy="394.5" r="2.6"/><circle cx="192.4" cy="373.7" r="2.6"/><circle cx="163.9" cy="405.6" r="2.6"/><circle cx="187.9" cy="374.0" r="2.6"/><circle cx="199.9" cy="365.5" r="2.6"/><circle cx="181.9" cy="382.6" r="2.6"/><circle cx="187.9" cy="369.6" r="2.6"/><circle cx="165.4" cy="401.4" r="2.6"/><circle cx="213.3" cy="354.1" r="2.6"/><circle cx="216.3" cy="350.3" r="2.6"/><circle cx="190.9" cy="376.5" r="2.6"/><circle cx="161.0" cy="408.1" r="2.6"/><circle cx="232.8" cy="331.5" r="2.6"/><circle cx="199.9" cy="362.6" r="2.6"/><circle cx="199.9" cy="362.3" r="2.6"/><circle cx="183.4" cy="383.2" r="2.6"/><circle cx="207.3" cy="360.3" r="2.6"/><circle cx="161.0" cy="405.2" r="2.6"/><circle cx="177.4" cy="385.8" r="2.6"/><circle cx="174.4" cy="395.3" r="2.6"/><circle cx="181.9" cy="377.8" r="2.6"/><circle cx="187.9" cy="377.3" r="2.6"/><circle cx="187.9" cy="376.8" r="2.6"/><circle cx="205.8" cy="355.0" r="2.6"/><circle cx="155.0" cy="404.9" r="2.6"/><circle cx="187.9" cy="379.2" r="2.6"/><circle cx="235.8" cy="331.8" r="2.6"/><circle cx="226.8" cy="336.2" r="2.6"/><circle cx="166.9" cy="396.6" r="2.6"/><circle cx="202.8" cy="363.8" r="2.6"/><circle cx="146.0" cy="420.3" r="2.6"/><circle cx="184.9" cy="385.2" r="2.6"/><circle cx="223.8" cy="343.8" r="2.6"/><circle cx="180.4" cy="386.4" r="2.6"/><circle cx="172.9" cy="395.6" r="2.6"/><circle cx="189.4" cy="375.3" r="2.6"/><circle cx="177.4" cy="388.6" r="2.6"/><circle cx="161.0" cy="402.3" r="2.6"/><circle cx="172.9" cy="391.8" r="2.6"/><circle cx="169.9" cy="397.5" r="2.6"/><circle cx="192.4" cy="378.3" r="2.6"/><circle cx="237.3" cy="329.8" r="2.6"/><circle cx="186.4" cy="382.3" r="2.6"/><circle cx="219.3" cy="341.9" r="2.6"/><circle cx="193.9" cy="377.4" r="2.6"/><circle cx="177.4" cy="385.8" r="2.6"/><circle cx="177.4" cy="392.8" r="2.6"/><circle cx="163.9" cy="404.4" r="2.6"/><circle cx="187.9" cy="380.5" r="2.6"/><circle cx="187.9" cy="367.2" r="2.6"/><circle cx="223.8" cy="346.8" r="2.6"/><circle cx="195.4" cy="370.3" r="2.6"/><circle cx="184.9" cy="376.9" r="2.6"/><circle cx="181.9" cy="385.1" r="2.6"/><circle cx="180.4" cy="385.7" r="2.6"/><circle cx="213.3" cy="350.1" r="2.6"/><circle cx="161.0" cy="406.0" r="2.6"/><circle cx="172.9" cy="389.4" r="2.6"/><circle cx="192.4" cy="370.1" r="2.6"/><circle cx="186.4" cy="386.8" r="2.6"/><circle cx="196.9" cy="368.3" r="2.6"/><circle cx="198.4" cy="372.8" r="2.6"/><circle cx="189.4" cy="379.2" r="2.6"/><circle cx="174.4" cy="389.8" r="2.6"/><circle cx="195.4" cy="374.1" r="2.6"/><circle cx="153.5" cy="421.2" r="2.6"/><circle cx="177.4" cy="383.9" r="2.6"/><circle cx="186.4" cy="388.1" r="2.6"/><circle cx="171.4" cy="392.4" r="2.6"/><circle cx="220.8" cy="341.2" r="2.6"/><circle cx="195.4" cy="369.9" r="2.6"/><circle cx="166.9" cy="400.2" r="2.6"/><circle cx="181.9" cy="386.8" r="2.6"/><circle cx="189.4" cy="378.0" r="2.6"/><circle cx="195.4" cy="365.1" r="2.6"/><circle cx="202.8" cy="361.7" r="2.6"/><circle cx="183.4" cy="388.2" r="2.6"/><circle cx="186.4" cy="377.3" r="2.6"/><circle cx="168.4" cy="392.1" r="2.6"/><circle cx="181.9" cy="382.4" r="2.6"/><circle cx="181.9" cy="388.7" r="2.6"/><circle cx="229.8" cy="341.5" r="2.6"/><circle cx="205.8" cy="362.6" r="2.6"/><circle cx="193.9" cy="375.2" r="2.6"/><circle cx="180.4" cy="381.7" r="2.6"/><circle cx="226.8" cy="343.2" r="2.6"/><circle cx="187.9" cy="374.3" r="2.6"/><circle cx="175.9" cy="386.9" r="2.6"/><circle cx="172.9" cy="390.3" r="2.6"/><circle cx="196.9" cy="364.5" r="2.6"/><circle cx="195.4" cy="375.3" r="2.6"/><circle cx="201.4" cy="369.1" r="2.6"/><circle cx="202.8" cy="357.5" r="2.6"/><circle cx="199.9" cy="368.4" r="2.6"/><circle cx="211.8" cy="353.9" r="2.6"/><circle cx="163.9" cy="402.8" r="2.6"/><circle cx="216.3" cy="351.3" r="2.6"/><circle cx="190.9" cy="376.4" r="2.6"/><circle cx="155.0" cy="412.2" r="2.6"/><circle cx="195.4" cy="369.8" r="2.6"/><circle cx="184.9" cy="389.2" r="2.6"/><circle cx="211.8" cy="351.8" r="2.6"/><circle cx="208.8" cy="352.4" r="2.6"/><circle cx="178.9" cy="389.1" r="2.6"/><circle cx="193.9" cy="365.6" r="2.6"/><circle cx="155.0" cy="411.1" r="2.6"/><circle cx="174.4" cy="389.0" r="2.6"/><circle cx="217.8" cy="349.8" r="2.6"/><circle cx="163.9" cy="401.2" r="2.6"/><circle cx="210.0" cy="340.1" r="2.6"/><circle cx="210.0" cy="383.1" r="2.6"/><circle cx="165.7" cy="408.5" r="2.6"/><circle cx="226.8" cy="351.6" r="2.6"/><circle cx="181.3" cy="400.0" r="2.6"/><circle cx="200.5" cy="351.6" r="2.6"/><circle cx="177.7" cy="377.0" r="2.6"/></g><line x1="143.0" y1="416.9" x2="253.7" y2="305.0" stroke="#3cbccb" stroke-width="0.85" /><line x1="149.0" y1="423.0" x2="261.5" y2="309.3" stroke="#3cbccb" stroke-width="0.85" /><line x1="143.0" y1="423.0" x2="259.7" y2="305.0" stroke="#5a5e70" stroke-width="0.7" /><line x1="143.0" y1="421.9" x2="259.1" y2="308.3" stroke="#a03a4c" stroke-width="0.9" /><g><circle cx="198.4" cy="363.5" r="1.3" fill="#2ea4b2"/><circle cx="163.9" cy="406.4" r="1.3" fill="#2ea4b2"/><circle cx="219.3" cy="343.4" r="1.3" fill="#2ea4b2"/><circle cx="172.9" cy="397.0" r="1.3" fill="#2ea4b2"/><circle cx="204.3" cy="367.0" r="1.3" fill="#2ea4b2"/><circle cx="190.9" cy="378.9" r="1.3" fill="#2ea4b2"/><circle cx="199.9" cy="360.4" r="1.3" fill="#2ea4b2"/><circle cx="207.3" cy="354.9" r="1.3" fill="#2ea4b2"/><circle cx="174.4" cy="383.6" r="1.3" fill="#2ea4b2"/><circle cx="192.4" cy="369.8" r="1.3" fill="#2ea4b2"/><circle cx="205.8" cy="364.8" r="1.3" fill="#2ea4b2"/><circle cx="235.8" cy="324.2" r="1.3" fill="#2ea4b2"/><circle cx="190.9" cy="378.5" r="1.3" fill="#2ea4b2"/><circle cx="189.4" cy="371.3" r="1.3" fill="#2ea4b2"/><circle cx="152.0" cy="416.6" r="1.3" fill="#2ea4b2"/><circle cx="219.3" cy="351.1" r="1.3" fill="#2ea4b2"/><circle cx="184.9" cy="390.1" r="1.3" fill="#2ea4b2"/><circle cx="204.3" cy="352.9" r="1.3" fill="#2ea4b2"/><circle cx="207.3" cy="362.5" r="1.3" fill="#2ea4b2"/><circle cx="190.9" cy="369.0" r="1.3" fill="#2ea4b2"/><circle cx="186.4" cy="372.2" r="1.3" fill="#2ea4b2"/><circle cx="202.8" cy="357.8" r="1.3" fill="#2ea4b2"/><circle cx="196.9" cy="365.9" r="1.3" fill="#2ea4b2"/><circle cx="161.0" cy="398.1" r="1.3" fill="#2ea4b2"/><circle cx="178.9" cy="391.5" r="1.3" fill="#2ea4b2"/><circle cx="172.9" cy="402.1" r="1.3" fill="#2ea4b2"/><circle cx="156.5" cy="395.2" r="1.3" fill="#2ea4b2"/><circle cx="184.9" cy="389.2" r="1.3" fill="#2ea4b2"/><circle cx="184.9" cy="386.9" r="1.3" fill="#2ea4b2"/><circle cx="199.9" cy="374.5" r="1.3" fill="#2ea4b2"/><circle cx="169.9" cy="390.8" r="1.3" fill="#2ea4b2"/><circle cx="220.8" cy="350.3" r="1.3" fill="#2ea4b2"/><circle cx="158.0" cy="403.8" r="1.3" fill="#2ea4b2"/><circle cx="204.3" cy="365.7" r="1.3" fill="#2ea4b2"/><circle cx="184.9" cy="384.7" r="1.3" fill="#2ea4b2"/><circle cx="186.4" cy="384.5" r="1.3" fill="#2ea4b2"/><circle cx="180.4" cy="389.6" r="1.3" fill="#2ea4b2"/><circle cx="155.0" cy="415.9" r="1.3" fill="#2ea4b2"/><circle cx="178.9" cy="381.2" r="1.3" fill="#2ea4b2"/><circle cx="174.4" cy="386.1" r="1.3" fill="#2ea4b2"/><circle cx="195.4" cy="366.7" r="1.3" fill="#2ea4b2"/><circle cx="202.8" cy="371.4" r="1.3" fill="#2ea4b2"/><circle cx="202.8" cy="359.9" r="1.3" fill="#2ea4b2"/><circle cx="208.8" cy="363.9" r="1.3" fill="#2ea4b2"/><circle cx="175.9" cy="398.9" r="1.3" fill="#2ea4b2"/><circle cx="192.4" cy="369.7" r="1.3" fill="#2ea4b2"/><circle cx="172.9" cy="385.8" r="1.3" fill="#2ea4b2"/><circle cx="181.9" cy="388.7" r="1.3" fill="#2ea4b2"/><circle cx="175.9" cy="383.3" r="1.3" fill="#2ea4b2"/><circle cx="168.4" cy="401.1" r="1.3" fill="#2ea4b2"/><circle cx="205.8" cy="369.5" r="1.3" fill="#2ea4b2"/><circle cx="184.9" cy="377.4" r="1.3" fill="#2ea4b2"/><circle cx="180.4" cy="389.7" r="1.3" fill="#2ea4b2"/><circle cx="162.5" cy="407.1" r="1.3" fill="#2ea4b2"/><circle cx="161.0" cy="400.1" r="1.3" fill="#2ea4b2"/><circle cx="158.0" cy="413.3" r="1.3" fill="#2ea4b2"/><circle cx="169.9" cy="392.0" r="1.3" fill="#2ea4b2"/><circle cx="213.3" cy="357.8" r="1.3" fill="#2ea4b2"/><circle cx="181.9" cy="390.9" r="1.3" fill="#2ea4b2"/><circle cx="168.4" cy="401.8" r="1.3" fill="#2ea4b2"/><circle cx="198.4" cy="359.6" r="1.3" fill="#2ea4b2"/><circle cx="169.9" cy="387.9" r="1.3" fill="#2ea4b2"/><circle cx="169.9" cy="389.7" r="1.3" fill="#2ea4b2"/><circle cx="204.3" cy="366.9" r="1.3" fill="#2ea4b2"/><circle cx="192.4" cy="368.9" r="1.3" fill="#2ea4b2"/><circle cx="180.4" cy="379.2" r="1.3" fill="#2ea4b2"/><circle cx="172.9" cy="396.2" r="1.3" fill="#2ea4b2"/><circle cx="202.8" cy="367.5" r="1.3" fill="#2ea4b2"/><circle cx="180.4" cy="381.8" r="1.3" fill="#2ea4b2"/><circle cx="211.8" cy="361.4" r="1.3" fill="#2ea4b2"/><circle cx="198.4" cy="360.4" r="1.3" fill="#2ea4b2"/><circle cx="159.5" cy="401.7" r="1.3" fill="#2ea4b2"/><circle cx="184.9" cy="376.5" r="1.3" fill="#2ea4b2"/><circle cx="205.8" cy="368.0" r="1.3" fill="#2ea4b2"/><circle cx="198.4" cy="362.7" r="1.3" fill="#2ea4b2"/><circle cx="171.4" cy="389.8" r="1.3" fill="#2ea4b2"/><circle cx="213.3" cy="349.2" r="1.3" fill="#2ea4b2"/><circle cx="195.4" cy="365.4" r="1.3" fill="#2ea4b2"/><circle cx="172.9" cy="396.2" r="1.3" fill="#2ea4b2"/><circle cx="204.3" cy="366.1" r="1.3" fill="#2ea4b2"/><circle cx="186.4" cy="386.5" r="1.3" fill="#2ea4b2"/><circle cx="169.9" cy="387.5" r="1.3" fill="#2ea4b2"/><circle cx="202.8" cy="349.7" r="1.3" fill="#2ea4b2"/><circle cx="190.9" cy="368.8" r="1.3" fill="#2ea4b2"/><circle cx="198.4" cy="371.2" r="1.3" fill="#2ea4b2"/><circle cx="163.9" cy="398.0" r="1.3" fill="#2ea4b2"/><circle cx="169.9" cy="403.3" r="1.3" fill="#2ea4b2"/><circle cx="220.8" cy="355.7" r="1.3" fill="#2ea4b2"/><circle cx="232.8" cy="330.4" r="1.3" fill="#2ea4b2"/><circle cx="177.4" cy="384.4" r="1.3" fill="#2ea4b2"/><circle cx="175.9" cy="396.8" r="1.3" fill="#2ea4b2"/><circle cx="196.9" cy="365.3" r="1.3" fill="#2ea4b2"/><circle cx="186.4" cy="383.4" r="1.3" fill="#2ea4b2"/><circle cx="216.3" cy="354.5" r="1.3" fill="#2ea4b2"/><circle cx="177.4" cy="395.6" r="1.3" fill="#2ea4b2"/><circle cx="186.4" cy="370.9" r="1.3" fill="#2ea4b2"/><circle cx="186.4" cy="386.1" r="1.3" fill="#2ea4b2"/><circle cx="196.9" cy="372.8" r="1.3" fill="#2ea4b2"/><circle cx="220.8" cy="350.6" r="1.3" fill="#2ea4b2"/><circle cx="175.9" cy="395.9" r="1.3" fill="#2ea4b2"/><circle cx="189.4" cy="380.4" r="1.3" fill="#2ea4b2"/><circle cx="175.9" cy="386.0" r="1.3" fill="#2ea4b2"/><circle cx="169.9" cy="399.7" r="1.3" fill="#2ea4b2"/><circle cx="193.9" cy="362.9" r="1.3" fill="#2ea4b2"/><circle cx="174.4" cy="395.4" r="1.3" fill="#2ea4b2"/><circle cx="177.4" cy="394.5" r="1.3" fill="#2ea4b2"/><circle cx="163.9" cy="405.6" r="1.3" fill="#2ea4b2"/><circle cx="187.9" cy="374.0" r="1.3" fill="#2ea4b2"/><circle cx="187.9" cy="369.6" r="1.3" fill="#2ea4b2"/><circle cx="161.0" cy="408.1" r="1.3" fill="#2ea4b2"/><circle cx="199.9" cy="362.6" r="1.3" fill="#2ea4b2"/><circle cx="199.9" cy="362.3" r="1.3" fill="#2ea4b2"/><circle cx="174.4" cy="395.3" r="1.3" fill="#2ea4b2"/><circle cx="181.9" cy="377.8" r="1.3" fill="#2ea4b2"/><circle cx="205.8" cy="355.0" r="1.3" fill="#2ea4b2"/><circle cx="155.0" cy="404.9" r="1.3" fill="#2ea4b2"/><circle cx="226.8" cy="336.2" r="1.3" fill="#2ea4b2"/><circle cx="184.9" cy="385.2" r="1.3" fill="#2ea4b2"/><circle cx="192.4" cy="378.3" r="1.3" fill="#2ea4b2"/><circle cx="219.3" cy="341.9" r="1.3" fill="#2ea4b2"/><circle cx="193.9" cy="377.4" r="1.3" fill="#2ea4b2"/><circle cx="177.4" cy="392.8" r="1.3" fill="#2ea4b2"/><circle cx="187.9" cy="367.2" r="1.3" fill="#2ea4b2"/><circle cx="223.8" cy="346.8" r="1.3" fill="#2ea4b2"/><circle cx="184.9" cy="376.9" r="1.3" fill="#2ea4b2"/><circle cx="192.4" cy="370.1" r="1.3" fill="#2ea4b2"/><circle cx="186.4" cy="386.8" r="1.3" fill="#2ea4b2"/><circle cx="198.4" cy="372.8" r="1.3" fill="#2ea4b2"/><circle cx="195.4" cy="374.1" r="1.3" fill="#2ea4b2"/><circle cx="153.5" cy="421.2" r="1.3" fill="#2ea4b2"/><circle cx="177.4" cy="383.9" r="1.3" fill="#2ea4b2"/><circle cx="186.4" cy="388.1" r="1.3" fill="#2ea4b2"/><circle cx="220.8" cy="341.2" r="1.3" fill="#2ea4b2"/><circle cx="195.4" cy="365.1" r="1.3" fill="#2ea4b2"/><circle cx="183.4" cy="388.2" r="1.3" fill="#2ea4b2"/><circle cx="168.4" cy="392.1" r="1.3" fill="#2ea4b2"/><circle cx="181.9" cy="388.7" r="1.3" fill="#2ea4b2"/><circle cx="229.8" cy="341.5" r="1.3" fill="#2ea4b2"/><circle cx="180.4" cy="381.7" r="1.3" fill="#2ea4b2"/><circle cx="226.8" cy="343.2" r="1.3" fill="#2ea4b2"/><circle cx="187.9" cy="374.3" r="1.3" fill="#2ea4b2"/><circle cx="196.9" cy="364.5" r="1.3" fill="#2ea4b2"/><circle cx="195.4" cy="375.3" r="1.3" fill="#2ea4b2"/><circle cx="201.4" cy="369.1" r="1.3" fill="#2ea4b2"/><circle cx="202.8" cy="357.5" r="1.3" fill="#2ea4b2"/><circle cx="184.9" cy="389.2" r="1.3" fill="#2ea4b2"/><circle cx="208.8" cy="352.4" r="1.3" fill="#2ea4b2"/><circle cx="193.9" cy="365.6" r="1.3" fill="#2ea4b2"/><circle cx="210.0" cy="340.1" r="1.3" fill="#2ea4b2"/><circle cx="210.0" cy="383.1" r="1.3" fill="#2ea4b2"/><circle cx="165.7" cy="408.5" r="1.3" fill="#2ea4b2"/><circle cx="226.8" cy="351.6" r="1.3" fill="#2ea4b2"/><circle cx="181.3" cy="400.0" r="1.3" fill="#2ea4b2"/><circle cx="200.5" cy="351.6" r="1.3" fill="#2ea4b2"/><circle cx="177.7" cy="377.0" r="1.3" fill="#2ea4b2"/><circle cx="163.9" cy="399.9" r="1.3" fill="#4580c2"/><circle cx="207.3" cy="360.9" r="1.3" fill="#4580c2"/><circle cx="162.5" cy="403.1" r="1.3" fill="#4580c2"/><circle cx="202.8" cy="361.5" r="1.3" fill="#4580c2"/><circle cx="186.4" cy="380.5" r="1.3" fill="#4580c2"/><circle cx="238.8" cy="329.3" r="1.3" fill="#4580c2"/><circle cx="189.4" cy="375.9" r="1.3" fill="#4580c2"/><circle cx="181.9" cy="384.1" r="1.3" fill="#4580c2"/><circle cx="193.9" cy="369.4" r="1.3" fill="#4580c2"/><circle cx="210.3" cy="355.2" r="1.3" fill="#4580c2"/><circle cx="152.0" cy="410.4" r="1.3" fill="#4580c2"/><circle cx="159.5" cy="406.4" r="1.3" fill="#4580c2"/><circle cx="159.5" cy="405.8" r="1.3" fill="#4580c2"/><circle cx="172.9" cy="391.8" r="1.3" fill="#4580c2"/><circle cx="250.7" cy="316.7" r="1.3" fill="#4580c2"/><circle cx="181.9" cy="381.3" r="1.3" fill="#4580c2"/><circle cx="186.4" cy="378.0" r="1.3" fill="#4580c2"/><circle cx="199.9" cy="369.4" r="1.3" fill="#4580c2"/><circle cx="225.3" cy="343.3" r="1.3" fill="#4580c2"/><circle cx="201.4" cy="364.8" r="1.3" fill="#4580c2"/><circle cx="207.3" cy="361.3" r="1.3" fill="#4580c2"/><circle cx="207.3" cy="359.4" r="1.3" fill="#4580c2"/><circle cx="213.3" cy="350.7" r="1.3" fill="#4580c2"/><circle cx="190.9" cy="378.1" r="1.3" fill="#4580c2"/><circle cx="202.8" cy="361.5" r="1.3" fill="#4580c2"/><circle cx="220.8" cy="347.2" r="1.3" fill="#4580c2"/><circle cx="199.9" cy="364.3" r="1.3" fill="#4580c2"/><circle cx="193.9" cy="371.3" r="1.3" fill="#4580c2"/><circle cx="192.4" cy="375.9" r="1.3" fill="#4580c2"/><circle cx="168.4" cy="398.5" r="1.3" fill="#4580c2"/><circle cx="202.8" cy="360.6" r="1.3" fill="#4580c2"/><circle cx="192.4" cy="370.6" r="1.3" fill="#4580c2"/><circle cx="223.8" cy="344.1" r="1.3" fill="#4580c2"/><circle cx="192.4" cy="370.7" r="1.3" fill="#4580c2"/><circle cx="186.4" cy="378.0" r="1.3" fill="#4580c2"/><circle cx="210.3" cy="353.3" r="1.3" fill="#4580c2"/><circle cx="172.9" cy="389.5" r="1.3" fill="#4580c2"/><circle cx="210.3" cy="357.1" r="1.3" fill="#4580c2"/><circle cx="192.4" cy="371.5" r="1.3" fill="#4580c2"/><circle cx="187.9" cy="375.5" r="1.3" fill="#4580c2"/><circle cx="180.4" cy="384.4" r="1.3" fill="#4580c2"/><circle cx="237.3" cy="327.3" r="1.3" fill="#4580c2"/><circle cx="174.4" cy="393.0" r="1.3" fill="#4580c2"/><circle cx="201.4" cy="363.6" r="1.3" fill="#4580c2"/><circle cx="152.0" cy="415.9" r="1.3" fill="#4580c2"/><circle cx="175.9" cy="391.7" r="1.3" fill="#4580c2"/><circle cx="199.9" cy="367.6" r="1.3" fill="#4580c2"/><circle cx="204.3" cy="361.5" r="1.3" fill="#4580c2"/><circle cx="181.9" cy="383.4" r="1.3" fill="#4580c2"/><circle cx="178.9" cy="387.7" r="1.3" fill="#4580c2"/><circle cx="216.3" cy="350.8" r="1.3" fill="#4580c2"/><circle cx="190.9" cy="374.2" r="1.3" fill="#4580c2"/><circle cx="231.3" cy="334.6" r="1.3" fill="#4580c2"/><circle cx="216.3" cy="349.4" r="1.3" fill="#4580c2"/><circle cx="156.5" cy="408.0" r="1.3" fill="#4580c2"/><circle cx="210.3" cy="353.8" r="1.3" fill="#4580c2"/><circle cx="174.4" cy="393.8" r="1.3" fill="#4580c2"/><circle cx="163.9" cy="404.0" r="1.3" fill="#4580c2"/><circle cx="213.3" cy="350.4" r="1.3" fill="#4580c2"/><circle cx="228.3" cy="338.8" r="1.3" fill="#4580c2"/><circle cx="153.5" cy="408.9" r="1.3" fill="#4580c2"/><circle cx="216.3" cy="346.9" r="1.3" fill="#4580c2"/><circle cx="214.8" cy="350.6" r="1.3" fill="#4580c2"/><circle cx="174.4" cy="390.8" r="1.3" fill="#4580c2"/><circle cx="187.9" cy="377.4" r="1.3" fill="#4580c2"/><circle cx="192.4" cy="371.3" r="1.3" fill="#4580c2"/><circle cx="211.8" cy="357.7" r="1.3" fill="#4580c2"/><circle cx="149.0" cy="413.1" r="1.3" fill="#4580c2"/><circle cx="202.8" cy="365.9" r="1.3" fill="#4580c2"/><circle cx="172.9" cy="394.3" r="1.3" fill="#4580c2"/><circle cx="186.4" cy="377.1" r="1.3" fill="#4580c2"/><circle cx="172.9" cy="391.7" r="1.3" fill="#4580c2"/><circle cx="171.4" cy="397.3" r="1.3" fill="#4580c2"/><circle cx="210.3" cy="356.5" r="1.3" fill="#4580c2"/><circle cx="192.4" cy="373.1" r="1.3" fill="#4580c2"/><circle cx="192.4" cy="374.4" r="1.3" fill="#4580c2"/><circle cx="198.4" cy="367.5" r="1.3" fill="#4580c2"/><circle cx="183.4" cy="382.1" r="1.3" fill="#4580c2"/><circle cx="195.4" cy="373.1" r="1.3" fill="#4580c2"/><circle cx="192.4" cy="372.6" r="1.3" fill="#4580c2"/><circle cx="172.9" cy="395.7" r="1.3" fill="#4580c2"/><circle cx="183.4" cy="384.7" r="1.3" fill="#4580c2"/><circle cx="175.9" cy="389.3" r="1.3" fill="#4580c2"/><circle cx="210.3" cy="355.7" r="1.3" fill="#4580c2"/><circle cx="184.9" cy="383.3" r="1.3" fill="#4580c2"/><circle cx="195.4" cy="371.6" r="1.3" fill="#4580c2"/><circle cx="217.8" cy="351.2" r="1.3" fill="#4580c2"/><circle cx="202.8" cy="360.2" r="1.3" fill="#4580c2"/><circle cx="208.8" cy="359.0" r="1.3" fill="#4580c2"/><circle cx="180.4" cy="387.4" r="1.3" fill="#4580c2"/><circle cx="241.8" cy="326.6" r="1.3" fill="#4580c2"/><circle cx="153.5" cy="413.2" r="1.3" fill="#4580c2"/><circle cx="199.9" cy="369.1" r="1.3" fill="#4580c2"/><circle cx="207.3" cy="356.9" r="1.3" fill="#4580c2"/><circle cx="156.5" cy="410.8" r="1.3" fill="#4580c2"/><circle cx="183.4" cy="382.3" r="1.3" fill="#4580c2"/><circle cx="190.9" cy="376.4" r="1.3" fill="#4580c2"/><circle cx="192.4" cy="375.8" r="1.3" fill="#4580c2"/><circle cx="195.4" cy="368.9" r="1.3" fill="#4580c2"/><circle cx="156.5" cy="409.4" r="1.3" fill="#4580c2"/><circle cx="210.3" cy="357.5" r="1.3" fill="#4580c2"/><circle cx="196.9" cy="369.7" r="1.3" fill="#4580c2"/><circle cx="211.8" cy="355.5" r="1.3" fill="#4580c2"/><circle cx="175.9" cy="390.8" r="1.3" fill="#4580c2"/><circle cx="165.4" cy="400.9" r="1.3" fill="#4580c2"/><circle cx="184.9" cy="381.5" r="1.3" fill="#4580c2"/><circle cx="211.8" cy="355.4" r="1.3" fill="#4580c2"/><circle cx="166.9" cy="400.2" r="1.3" fill="#4580c2"/><circle cx="184.9" cy="382.2" r="1.3" fill="#4580c2"/><circle cx="168.4" cy="398.0" r="1.3" fill="#4580c2"/><circle cx="231.3" cy="337.9" r="1.3" fill="#4580c2"/><circle cx="202.8" cy="360.4" r="1.3" fill="#4580c2"/><circle cx="171.4" cy="393.6" r="1.3" fill="#4580c2"/><circle cx="196.9" cy="370.1" r="1.3" fill="#4580c2"/><circle cx="189.4" cy="377.3" r="1.3" fill="#4580c2"/><circle cx="192.4" cy="371.0" r="1.3" fill="#4580c2"/><circle cx="181.9" cy="387.0" r="1.3" fill="#4580c2"/><circle cx="205.8" cy="357.2" r="1.3" fill="#4580c2"/><circle cx="187.9" cy="375.4" r="1.3" fill="#4580c2"/><circle cx="166.9" cy="399.2" r="1.3" fill="#4580c2"/><circle cx="172.9" cy="389.8" r="1.3" fill="#4580c2"/><circle cx="175.9" cy="390.1" r="1.3" fill="#4580c2"/><circle cx="196.9" cy="371.4" r="1.3" fill="#4580c2"/><circle cx="202.8" cy="365.3" r="1.3" fill="#4580c2"/><circle cx="196.9" cy="370.5" r="1.3" fill="#4580c2"/><circle cx="187.9" cy="376.2" r="1.3" fill="#4580c2"/><circle cx="190.9" cy="377.0" r="1.3" fill="#4580c2"/><circle cx="201.4" cy="364.5" r="1.3" fill="#4580c2"/><circle cx="198.4" cy="368.1" r="1.3" fill="#4580c2"/><circle cx="155.0" cy="410.4" r="1.3" fill="#4580c2"/><circle cx="158.0" cy="407.3" r="1.3" fill="#4580c2"/><circle cx="190.9" cy="373.7" r="1.3" fill="#4580c2"/><circle cx="192.4" cy="372.9" r="1.3" fill="#4580c2"/><circle cx="165.4" cy="401.4" r="1.3" fill="#4580c2"/><circle cx="177.4" cy="389.1" r="1.3" fill="#4580c2"/><circle cx="193.9" cy="369.7" r="1.3" fill="#4580c2"/><circle cx="195.4" cy="371.4" r="1.3" fill="#4580c2"/><circle cx="155.0" cy="408.6" r="1.3" fill="#4580c2"/><circle cx="166.9" cy="398.9" r="1.3" fill="#4580c2"/><circle cx="184.9" cy="381.3" r="1.3" fill="#4580c2"/><circle cx="192.4" cy="371.4" r="1.3" fill="#4580c2"/><circle cx="184.9" cy="380.9" r="1.3" fill="#4580c2"/><circle cx="174.4" cy="394.0" r="1.3" fill="#4580c2"/><circle cx="168.4" cy="399.7" r="1.3" fill="#4580c2"/><circle cx="223.8" cy="343.6" r="1.3" fill="#4580c2"/><circle cx="186.4" cy="380.9" r="1.3" fill="#4580c2"/><circle cx="207.3" cy="358.7" r="1.3" fill="#4580c2"/><circle cx="178.9" cy="389.8" r="1.3" fill="#4580c2"/><circle cx="168.4" cy="397.8" r="1.3" fill="#4580c2"/><circle cx="216.3" cy="350.2" r="1.3" fill="#4580c2"/><circle cx="192.4" cy="373.7" r="1.3" fill="#4580c2"/><circle cx="199.9" cy="365.5" r="1.3" fill="#4580c2"/><circle cx="181.9" cy="382.6" r="1.3" fill="#4580c2"/><circle cx="165.4" cy="401.4" r="1.3" fill="#4580c2"/><circle cx="213.3" cy="354.1" r="1.3" fill="#4580c2"/><circle cx="216.3" cy="350.3" r="1.3" fill="#4580c2"/><circle cx="190.9" cy="376.5" r="1.3" fill="#4580c2"/><circle cx="232.8" cy="331.5" r="1.3" fill="#4580c2"/><circle cx="183.4" cy="383.2" r="1.3" fill="#4580c2"/><circle cx="207.3" cy="360.3" r="1.3" fill="#4580c2"/><circle cx="161.0" cy="405.2" r="1.3" fill="#4580c2"/><circle cx="177.4" cy="385.8" r="1.3" fill="#4580c2"/><circle cx="187.9" cy="377.3" r="1.3" fill="#4580c2"/><circle cx="187.9" cy="376.8" r="1.3" fill="#4580c2"/><circle cx="187.9" cy="379.2" r="1.3" fill="#4580c2"/><circle cx="235.8" cy="331.8" r="1.3" fill="#4580c2"/><circle cx="166.9" cy="396.6" r="1.3" fill="#4580c2"/><circle cx="202.8" cy="363.8" r="1.3" fill="#4580c2"/><circle cx="146.0" cy="420.3" r="1.3" fill="#4580c2"/><circle cx="223.8" cy="343.8" r="1.3" fill="#4580c2"/><circle cx="180.4" cy="386.4" r="1.3" fill="#4580c2"/><circle cx="172.9" cy="395.6" r="1.3" fill="#4580c2"/><circle cx="189.4" cy="375.3" r="1.3" fill="#4580c2"/><circle cx="177.4" cy="388.6" r="1.3" fill="#4580c2"/><circle cx="161.0" cy="402.3" r="1.3" fill="#4580c2"/><circle cx="172.9" cy="391.8" r="1.3" fill="#4580c2"/><circle cx="169.9" cy="397.5" r="1.3" fill="#4580c2"/><circle cx="237.3" cy="329.8" r="1.3" fill="#4580c2"/><circle cx="186.4" cy="382.3" r="1.3" fill="#4580c2"/><circle cx="177.4" cy="385.8" r="1.3" fill="#4580c2"/><circle cx="163.9" cy="404.4" r="1.3" fill="#4580c2"/><circle cx="187.9" cy="380.5" r="1.3" fill="#4580c2"/><circle cx="195.4" cy="370.3" r="1.3" fill="#4580c2"/><circle cx="181.9" cy="385.1" r="1.3" fill="#4580c2"/><circle cx="180.4" cy="385.7" r="1.3" fill="#4580c2"/><circle cx="213.3" cy="350.1" r="1.3" fill="#4580c2"/><circle cx="161.0" cy="406.0" r="1.3" fill="#4580c2"/><circle cx="172.9" cy="389.4" r="1.3" fill="#4580c2"/><circle cx="196.9" cy="368.3" r="1.3" fill="#4580c2"/><circle cx="189.4" cy="379.2" r="1.3" fill="#4580c2"/><circle cx="174.4" cy="389.8" r="1.3" fill="#4580c2"/><circle cx="171.4" cy="392.4" r="1.3" fill="#4580c2"/><circle cx="195.4" cy="369.9" r="1.3" fill="#4580c2"/><circle cx="166.9" cy="400.2" r="1.3" fill="#4580c2"/><circle cx="181.9" cy="386.8" r="1.3" fill="#4580c2"/><circle cx="189.4" cy="378.0" r="1.3" fill="#4580c2"/><circle cx="202.8" cy="361.7" r="1.3" fill="#4580c2"/><circle cx="186.4" cy="377.3" r="1.3" fill="#4580c2"/><circle cx="181.9" cy="382.4" r="1.3" fill="#4580c2"/><circle cx="205.8" cy="362.6" r="1.3" fill="#4580c2"/><circle cx="193.9" cy="375.2" r="1.3" fill="#4580c2"/><circle cx="175.9" cy="386.9" r="1.3" fill="#4580c2"/><circle cx="172.9" cy="390.3" r="1.3" fill="#4580c2"/><circle cx="199.9" cy="368.4" r="1.3" fill="#4580c2"/><circle cx="211.8" cy="353.9" r="1.3" fill="#4580c2"/><circle cx="163.9" cy="402.8" r="1.3" fill="#4580c2"/><circle cx="216.3" cy="351.3" r="1.3" fill="#4580c2"/><circle cx="190.9" cy="376.4" r="1.3" fill="#4580c2"/><circle cx="155.0" cy="412.2" r="1.3" fill="#4580c2"/><circle cx="195.4" cy="369.8" r="1.3" fill="#4580c2"/><circle cx="211.8" cy="351.8" r="1.3" fill="#4580c2"/><circle cx="178.9" cy="389.1" r="1.3" fill="#4580c2"/><circle cx="155.0" cy="411.1" r="1.3" fill="#4580c2"/><circle cx="174.4" cy="389.0" r="1.3" fill="#4580c2"/><circle cx="217.8" cy="349.8" r="1.3" fill="#4580c2"/><circle cx="163.9" cy="401.2" r="1.3" fill="#4580c2"/></g><rect x="149" y="312.5" width="49" height="11.5" fill="#7d8087"/><text x="173.5" y="320.5" font-size="6.2" text-anchor="middle" fill="#eceef0" font-weight="normal" >overcorrected</text><rect x="199.5" y="405" width="57" height="12.3" fill="#7d8087"/><text x="228.0" y="413.4" font-size="6.2" text-anchor="middle" fill="#eceef0" font-weight="normal" >undercorrected</text><text x="295.0" y="328.4" font-size="4.6" text-anchor="start" fill="#3d4249" font-weight="bold" stroke="#3d4249" stroke-width="0.22" >% OF EYES</text><text x="302.0" y="337.1" font-size="4.6" text-anchor="end" fill="#3d4249" font-weight="bold" stroke="#3d4249" stroke-width="0.22" >100</text><text x="302.0" y="353.7" font-size="4.6" text-anchor="end" fill="#3d4249" font-weight="bold" stroke="#3d4249" stroke-width="0.22" >80</text><text x="302.0" y="370.4" font-size="4.6" text-anchor="end" fill="#3d4249" font-weight="bold" stroke="#3d4249" stroke-width="0.22" >60</text><text x="302.0" y="387.0" font-size="4.6" text-anchor="end" fill="#3d4249" font-weight="bold" stroke="#3d4249" stroke-width="0.22" >40</text><text x="302.0" y="403.7" font-size="4.6" text-anchor="end" fill="#3d4249" font-weight="bold" stroke="#3d4249" stroke-width="0.22" >20</text><text x="302.0" y="420.4" font-size="4.6" text-anchor="end" fill="#3d4249" font-weight="bold" stroke="#3d4249" stroke-width="0.22" >0</text><line x1="306.0" y1="335.4" x2="512.0" y2="335.4" stroke="#dfe2e7" stroke-width="0.8" /><line x1="306.0" y1="352.1" x2="512.0" y2="352.1" stroke="#dfe2e7" stroke-width="0.8" /><line x1="306.0" y1="368.7" x2="512.0" y2="368.7" stroke="#dfe2e7" stroke-width="0.8" /><line x1="306.0" y1="385.4" x2="512.0" y2="385.4" stroke="#dfe2e7" stroke-width="0.8" /><line x1="306.0" y1="402.0" x2="512.0" y2="402.0" stroke="#dfe2e7" stroke-width="0.8" /><rect x="315.50" y="418.70" width="8.20" height="0.00" fill="#8dcbed" /><text x="319.6" y="418.1" font-size="4.75" text-anchor="middle" fill="#2580b0" font-weight="bold" stroke="#2580b0" stroke-width="0.22" >0.0</text><text x="319.6" y="424.7" font-size="4.8" text-anchor="middle" fill="#3d4249" font-weight="bold" stroke="#3d4249" stroke-width="0.22" >&lt;</text><text x="319.6" y="431.5" font-size="4.8" text-anchor="middle" fill="#3d4249" font-weight="bold" stroke="#3d4249" stroke-width="0.22" >-1.50</text><rect x="338.20" y="418.70" width="8.20" height="0.00" fill="#8dcbed" /><text x="342.3" y="418.1" font-size="4.75" text-anchor="middle" fill="#2580b0" font-weight="bold" stroke="#2580b0" stroke-width="0.22" >0.0</text><text x="342.3" y="424.7" font-size="4.8" text-anchor="middle" fill="#3d4249" font-weight="bold" stroke="#3d4249" stroke-width="0.22" >-1.50</text><text x="342.3" y="431.5" font-size="4.8" text-anchor="middle" fill="#3d4249" font-weight="bold" stroke="#3d4249" stroke-width="0.22" >-1.01</text><rect x="360.90" y="414.62" width="8.20" height="4.08" fill="#8dcbed" /><text x="365.0" y="414.0" font-size="4.75" text-anchor="middle" fill="#2580b0" font-weight="bold" stroke="#2580b0" stroke-width="0.22" >4.9</text><text x="365.0" y="424.7" font-size="4.8" text-anchor="middle" fill="#3d4249" font-weight="bold" stroke="#3d4249" stroke-width="0.22" >-1.00</text><text x="365.0" y="431.5" font-size="4.8" text-anchor="middle" fill="#3d4249" font-weight="bold" stroke="#3d4249" stroke-width="0.22" >-0.51</text><rect x="383.60" y="400.87" width="8.20" height="17.83" fill="#8dcbed" /><text x="387.7" y="400.3" font-size="4.75" text-anchor="middle" fill="#2580b0" font-weight="bold" stroke="#2580b0" stroke-width="0.22" >21.4</text><text x="387.7" y="424.7" font-size="4.8" text-anchor="middle" fill="#3d4249" font-weight="bold" stroke="#3d4249" stroke-width="0.22" >-0.50</text><text x="387.7" y="431.5" font-size="4.8" text-anchor="middle" fill="#3d4249" font-weight="bold" stroke="#3d4249" stroke-width="0.22" >-0.14</text><rect x="406.30" y="374.30" width="8.20" height="44.40" fill="#8dcbed" /><text x="410.4" y="373.7" font-size="4.75" text-anchor="middle" fill="#2580b0" font-weight="bold" stroke="#2580b0" stroke-width="0.22" >53.3</text><text x="410.4" y="424.7" font-size="4.8" text-anchor="middle" fill="#3d4249" font-weight="bold" stroke="#3d4249" stroke-width="0.22" >-0.13</text><text x="410.4" y="431.5" font-size="4.8" text-anchor="middle" fill="#3d4249" font-weight="bold" stroke="#3d4249" stroke-width="0.22" >+0.13</text><rect x="429.00" y="403.04" width="8.20" height="15.66" fill="#8dcbed" /><text x="433.1" y="402.4" font-size="4.75" text-anchor="middle" fill="#2580b0" font-weight="bold" stroke="#2580b0" stroke-width="0.22" >18.8</text><text x="433.1" y="424.7" font-size="4.8" text-anchor="middle" fill="#3d4249" font-weight="bold" stroke="#3d4249" stroke-width="0.22" >+0.14</text><text x="433.1" y="431.5" font-size="4.8" text-anchor="middle" fill="#3d4249" font-weight="bold" stroke="#3d4249" stroke-width="0.22" >+0.50</text><rect x="451.70" y="416.87" width="8.20" height="1.83" fill="#8dcbed" /><text x="455.8" y="416.3" font-size="4.75" text-anchor="middle" fill="#2580b0" font-weight="bold" stroke="#2580b0" stroke-width="0.22" >2.2</text><text x="455.8" y="424.7" font-size="4.8" text-anchor="middle" fill="#3d4249" font-weight="bold" stroke="#3d4249" stroke-width="0.22" >+0.51</text><text x="455.8" y="431.5" font-size="4.8" text-anchor="middle" fill="#3d4249" font-weight="bold" stroke="#3d4249" stroke-width="0.22" >+1.00</text><rect x="474.40" y="418.45" width="8.20" height="0.25" fill="#8dcbed" /><text x="478.5" y="417.9" font-size="4.75" text-anchor="middle" fill="#2580b0" font-weight="bold" stroke="#2580b0" stroke-width="0.22" >0.3</text><text x="478.5" y="424.7" font-size="4.8" text-anchor="middle" fill="#3d4249" font-weight="bold" stroke="#3d4249" stroke-width="0.22" >+1.01</text><text x="478.5" y="431.5" font-size="4.8" text-anchor="middle" fill="#3d4249" font-weight="bold" stroke="#3d4249" stroke-width="0.22" >+1.50</text><rect x="497.10" y="418.70" width="8.20" height="0.00" fill="#8dcbed" /><text x="501.2" y="418.1" font-size="4.75" text-anchor="middle" fill="#2580b0" font-weight="bold" stroke="#2580b0" stroke-width="0.22" >0.0</text><text x="501.2" y="424.7" font-size="4.8" text-anchor="middle" fill="#3d4249" font-weight="bold" stroke="#3d4249" stroke-width="0.22" >&gt;</text><text x="501.2" y="431.5" font-size="4.8" text-anchor="middle" fill="#3d4249" font-weight="bold" stroke="#3d4249" stroke-width="0.22" >+1.50</text><line x1="306.0" y1="418.7" x2="512.0" y2="418.7" stroke="#687787" stroke-width="1.2" /><text x="512.0" y="438.7" font-size="4.6" text-anchor="end" fill="#3d4249" font-weight="bold" stroke="#3d4249" stroke-width="0.22" >ACCURACY OF SE TO INTENDED TARGET (D)</text><text x="546.5" y="332.1" font-size="4.6" text-anchor="start" fill="#3d4249" font-weight="bold" stroke="#3d4249" stroke-width="0.22" >MEAN &#177; SD SE (D)</text><text x="554.0" y="346.5" font-size="4.6" text-anchor="end" fill="#3d4249" font-weight="bold" stroke="#3d4249" stroke-width="0.22" >+1</text><line x1="557.0" y1="344.9" x2="764.0" y2="344.9" stroke="#e6e8ec" stroke-width="0.6" /><text x="554.0" y="358.3" font-size="4.6" text-anchor="end" fill="#3d4249" font-weight="bold" stroke="#3d4249" stroke-width="0.22" >+0</text><text x="554.0" y="370.0" font-size="4.6" text-anchor="end" fill="#3d4249" font-weight="bold" stroke="#3d4249" stroke-width="0.22" >&#8722;1</text><line x1="557.0" y1="368.4" x2="764.0" y2="368.4" stroke="#e6e8ec" stroke-width="0.6" /><text x="554.0" y="381.8" font-size="4.6" text-anchor="end" fill="#3d4249" font-weight="bold" stroke="#3d4249" stroke-width="0.22" >&#8722;2</text><line x1="557.0" y1="380.1" x2="764.0" y2="380.1" stroke="#e6e8ec" stroke-width="0.6" /><text x="554.0" y="393.5" font-size="4.6" text-anchor="end" fill="#3d4249" font-weight="bold" stroke="#3d4249" stroke-width="0.22" >&#8722;3</text><line x1="557.0" y1="391.9" x2="764.0" y2="391.9" stroke="#e6e8ec" stroke-width="0.6" /><text x="554.0" y="405.3" font-size="4.6" text-anchor="end" fill="#3d4249" font-weight="bold" stroke="#3d4249" stroke-width="0.22" >&#8722;4</text><line x1="557.0" y1="403.6" x2="764.0" y2="403.6" stroke="#e6e8ec" stroke-width="0.6" /><text x="554.0" y="417.0" font-size="4.6" text-anchor="end" fill="#3d4249" font-weight="bold" stroke="#3d4249" stroke-width="0.22" >&#8722;5</text><line x1="557.0" y1="415.4" x2="764.0" y2="415.4" stroke="#e6e8ec" stroke-width="0.6" /><line x1="586.3" y1="336.0" x2="586.3" y2="425.0" stroke="#dcdfe4" stroke-width="0.6" /><line x1="616.2" y1="336.0" x2="616.2" y2="425.0" stroke="#dcdfe4" stroke-width="0.6" /><line x1="661.2" y1="336.0" x2="661.2" y2="425.0" stroke="#dcdfe4" stroke-width="0.6" /><line x1="750.6" y1="336.0" x2="750.6" y2="425.0" stroke="#dcdfe4" stroke-width="0.6" /><line x1="571.4" y1="335.0" x2="571.4" y2="425.5" stroke="#555c66" stroke-width="1.0" /><line x1="568.0" y1="382.2" x2="568.0" y2="421.2" stroke="#7aa8c8" stroke-width="0.8" stroke-dasharray="1.5,1"/><line x1="574.8" y1="352.6" x2="574.8" y2="361.1" stroke="#8a9099" stroke-width="0.6" /><line x1="573.3" y1="352.6" x2="576.3" y2="352.6" stroke="#8a9099" stroke-width="0.6" /><line x1="573.3" y1="361.1" x2="576.3" y2="361.1" stroke="#8a9099" stroke-width="0.6" /><line x1="586.3" y1="352.6" x2="586.3" y2="361.1" stroke="#8a9099" stroke-width="0.6" /><line x1="584.8" y1="352.6" x2="587.8" y2="352.6" stroke="#8a9099" stroke-width="0.6" /><line x1="584.8" y1="361.1" x2="587.8" y2="361.1" stroke="#8a9099" stroke-width="0.6" /><line x1="616.2" y1="352.6" x2="616.2" y2="361.1" stroke="#8a9099" stroke-width="0.6" /><line x1="614.7" y1="352.6" x2="617.7" y2="352.6" stroke="#8a9099" stroke-width="0.6" /><line x1="614.7" y1="361.1" x2="617.7" y2="361.1" stroke="#8a9099" stroke-width="0.6" /><line x1="661.2" y1="352.6" x2="661.2" y2="361.1" stroke="#8a9099" stroke-width="0.6" /><line x1="659.7" y1="352.6" x2="662.7" y2="352.6" stroke="#8a9099" stroke-width="0.6" /><line x1="659.7" y1="361.1" x2="662.7" y2="361.1" stroke="#8a9099" stroke-width="0.6" /><line x1="750.6" y1="352.6" x2="750.6" y2="361.1" stroke="#8a9099" stroke-width="0.6" /><line x1="749.1" y1="352.6" x2="752.1" y2="352.6" stroke="#8a9099" stroke-width="0.6" /><line x1="749.1" y1="361.1" x2="752.1" y2="361.1" stroke="#8a9099" stroke-width="0.6" /><polyline fill="none" stroke="#8cc8e2" stroke-width="1.8" stroke-linejoin="round" points="570.4,402.0 574.8,358.4 586.3,357.7 616.2,357.4 661.2,357.6 750.6,358.3"/><polyline fill="none" stroke="#5f93b0" stroke-width="0.9" stroke-linejoin="round" points="570.4,401.7 574.8,358.1 586.3,357.4 616.2,357.1 661.2,357.3 750.6,358.0"/><line x1="557.0" y1="356.6" x2="764.0" y2="356.6" stroke="#5a7282" stroke-width="1.3" /><rect x="579.6" y="339.8" width="23" height="8.5" fill="#fff" stroke="#d0d3d8" stroke-width="0.6"/><text x="591.1" y="345.8" font-size="4.7" text-anchor="middle" fill="#5d6269" font-weight="bold" stroke="#5d6269" stroke-width="0.22" >&#8722;0.13 D</text><rect x="590.3" y="361.8" width="23" height="8.5" fill="#fff" stroke="#d0d3d8" stroke-width="0.6"/><text x="601.8" y="367.8" font-size="4.7" text-anchor="middle" fill="#5d6269" font-weight="bold" stroke="#5d6269" stroke-width="0.22" >&#8722;0.07 D</text><rect x="619.9" y="361" width="22.5" height="8.5" fill="#fff" stroke="#d0d3d8" stroke-width="0.6"/><text x="631.1" y="367.0" font-size="4.7" text-anchor="middle" fill="#5d6269" font-weight="bold" stroke="#5d6269" stroke-width="0.22" >&#8722;0.04 D</text><rect x="665" y="361.5" width="23" height="8.5" fill="#fff" stroke="#d0d3d8" stroke-width="0.6"/><text x="676.5" y="367.5" font-size="4.7" text-anchor="middle" fill="#5d6269" font-weight="bold" stroke="#5d6269" stroke-width="0.22" >&#8722;0.06 D</text><rect x="726.6" y="362.7" width="24" height="8.5" fill="#fff" stroke="#d0d3d8" stroke-width="0.6"/><text x="738.6" y="368.7" font-size="4.7" text-anchor="middle" fill="#5d6269" font-weight="bold" stroke="#5d6269" stroke-width="0.22" >&#8722;0.12 D</text><rect x="570.5" y="405.4" width="25.3" height="8.5" fill="#fff" stroke="#d0d3d8" stroke-width="0.6"/><text x="583.1" y="411.4" font-size="4.7" text-anchor="middle" fill="#5d6269" font-weight="bold" stroke="#5d6269" stroke-width="0.22" >&#8722;3.84 D</text><text x="563.0" y="432.0" font-size="4.5" text-anchor="middle" fill="#3d4249" font-weight="bold" stroke="#3d4249" stroke-width="0.22" >PRE</text><text x="573.8" y="432.0" font-size="4.5" text-anchor="middle" fill="#3d4249" font-weight="bold" stroke="#3d4249" stroke-width="0.22" >1W</text><text x="586.3" y="432.0" font-size="4.5" text-anchor="middle" fill="#3d4249" font-weight="bold" stroke="#3d4249" stroke-width="0.22" >1M</text><text x="616.2" y="432.0" font-size="4.5" text-anchor="middle" fill="#3d4249" font-weight="bold" stroke="#3d4249" stroke-width="0.22" >3M</text><text x="661.3" y="432.0" font-size="4.5" text-anchor="middle" fill="#3d4249" font-weight="bold" stroke="#3d4249" stroke-width="0.22" >6M</text><text x="750.4" y="432.0" font-size="4.5" text-anchor="middle" fill="#3d4249" font-weight="bold" stroke="#3d4249" stroke-width="0.22" >12M</text><text x="764.0" y="440.6" font-size="4.6" text-anchor="end" fill="#3d4249" font-weight="bold" stroke="#3d4249" stroke-width="0.22" >TIME AFTER SURGERY (MONTHS)</text><rect x="202.30" y="551.80" width="6.00" height="5.40" fill="#8dcbed" /><text x="209.0" y="556.2" font-size="4.6" text-anchor="start" fill="#3d4249" font-weight="bold" stroke="#3d4249" stroke-width="0.22" >POSTOP</text><rect x="235.60" y="551.80" width="5.60" height="5.40" fill="#b8babf" /><text x="241.8" y="556.2" font-size="4.6" text-anchor="start" fill="#3d4249" font-weight="bold" stroke="#3d4249" stroke-width="0.22" >PREOP</text><text x="43.0" y="556.2" font-size="4.6" text-anchor="start" fill="#3d4249" font-weight="bold" stroke="#3d4249" stroke-width="0.22" >% OF EYES</text><text x="52.0" y="564.7" font-size="4.6" text-anchor="end" fill="#3d4249" font-weight="bold" stroke="#3d4249" stroke-width="0.22" >100</text><text x="52.0" y="581.3" font-size="4.6" text-anchor="end" fill="#3d4249" font-weight="bold" stroke="#3d4249" stroke-width="0.22" >80</text><text x="52.0" y="597.9" font-size="4.6" text-anchor="end" fill="#3d4249" font-weight="bold" stroke="#3d4249" stroke-width="0.22" >60</text><text x="52.0" y="614.5" font-size="4.6" text-anchor="end" fill="#3d4249" font-weight="bold" stroke="#3d4249" stroke-width="0.22" >40</text><text x="52.0" y="631.1" font-size="4.6" text-anchor="end" fill="#3d4249" font-weight="bold" stroke="#3d4249" stroke-width="0.22" >20</text><text x="52.0" y="647.7" font-size="4.6" text-anchor="end" fill="#3d4249" font-weight="bold" stroke="#3d4249" stroke-width="0.22" >0</text><line x1="57.4" y1="563.0" x2="260.5" y2="563.0" stroke="#dfe2e7" stroke-width="0.8" /><line x1="57.4" y1="579.6" x2="260.5" y2="579.6" stroke="#dfe2e7" stroke-width="0.8" /><line x1="57.4" y1="596.2" x2="260.5" y2="596.2" stroke="#dfe2e7" stroke-width="0.8" /><line x1="57.4" y1="612.8" x2="260.5" y2="612.8" stroke="#dfe2e7" stroke-width="0.8" /><line x1="57.4" y1="629.4" x2="260.5" y2="629.4" stroke="#dfe2e7" stroke-width="0.8" /><rect x="59.90" y="606.58" width="8.10" height="39.42" fill="#8dcbed" /><rect x="69.00" y="630.73" width="8.10" height="15.27" fill="#b8babf" /><text x="64.0" y="606.0" font-size="4.75" text-anchor="middle" fill="#2580b0" font-weight="bold" stroke="#2580b0" stroke-width="0.22" >47.5</text><text x="73.0" y="630.1" font-size="4.75" text-anchor="middle" fill="#45494f" font-weight="bold" stroke="#45494f" stroke-width="0.22" >18.4</text><text x="68.5" y="652.7" font-size="4.8" text-anchor="middle" fill="#3d4249" font-weight="bold" stroke="#3d4249" stroke-width="0.22" >&#8804;</text><text x="68.5" y="659.1" font-size="4.8" text-anchor="middle" fill="#3d4249" font-weight="bold" stroke="#3d4249" stroke-width="0.22" >0.25</text><rect x="82.60" y="620.93" width="8.10" height="25.07" fill="#8dcbed" /><rect x="91.70" y="631.39" width="8.10" height="14.61" fill="#b8babf" /><text x="86.7" y="620.3" font-size="4.75" text-anchor="middle" fill="#2580b0" font-weight="bold" stroke="#2580b0" stroke-width="0.22" >30.2</text><text x="95.7" y="630.8" font-size="4.75" text-anchor="middle" fill="#45494f" font-weight="bold" stroke="#45494f" stroke-width="0.22" >17.6</text><text x="91.2" y="652.7" font-size="4.8" text-anchor="middle" fill="#3d4249" font-weight="bold" stroke="#3d4249" stroke-width="0.22" >0.26</text><text x="91.2" y="659.1" font-size="4.8" text-anchor="middle" fill="#3d4249" font-weight="bold" stroke="#3d4249" stroke-width="0.22" >0.50</text><rect x="105.30" y="632.30" width="8.10" height="13.69" fill="#8dcbed" /><rect x="114.40" y="631.64" width="8.10" height="14.36" fill="#b8babf" /><text x="109.4" y="631.7" font-size="4.75" text-anchor="middle" fill="#2580b0" font-weight="bold" stroke="#2580b0" stroke-width="0.22" >16.5</text><text x="118.4" y="631.1" font-size="4.75" text-anchor="middle" fill="#45494f" font-weight="bold" stroke="#45494f" stroke-width="0.22" >17.3</text><text x="113.9" y="652.7" font-size="4.8" text-anchor="middle" fill="#3d4249" font-weight="bold" stroke="#3d4249" stroke-width="0.22" >0.51</text><text x="113.9" y="659.1" font-size="4.8" text-anchor="middle" fill="#3d4249" font-weight="bold" stroke="#3d4249" stroke-width="0.22" >0.75</text><rect x="128.00" y="643.76" width="8.10" height="2.24" fill="#8dcbed" /><rect x="137.10" y="635.13" width="8.10" height="10.87" fill="#b8babf" /><text x="132.1" y="643.2" font-size="4.75" text-anchor="middle" fill="#2580b0" font-weight="bold" stroke="#2580b0" stroke-width="0.22" >2.7</text><text x="141.1" y="634.5" font-size="4.75" text-anchor="middle" fill="#45494f" font-weight="bold" stroke="#45494f" stroke-width="0.22" >13.1</text><text x="136.6" y="652.7" font-size="4.8" text-anchor="middle" fill="#3d4249" font-weight="bold" stroke="#3d4249" stroke-width="0.22" >0.76</text><text x="136.6" y="659.1" font-size="4.8" text-anchor="middle" fill="#3d4249" font-weight="bold" stroke="#3d4249" stroke-width="0.22" >1.00</text><rect x="150.70" y="644.17" width="8.10" height="1.83" fill="#8dcbed" /><rect x="159.80" y="637.12" width="8.10" height="8.88" fill="#b8babf" /><text x="154.8" y="643.6" font-size="4.75" text-anchor="middle" fill="#2580b0" font-weight="bold" stroke="#2580b0" stroke-width="0.22" >2.2</text><text x="163.8" y="636.5" font-size="4.75" text-anchor="middle" fill="#45494f" font-weight="bold" stroke="#45494f" stroke-width="0.22" >10.7</text><text x="159.3" y="652.7" font-size="4.8" text-anchor="middle" fill="#3d4249" font-weight="bold" stroke="#3d4249" stroke-width="0.22" >1.01</text><text x="159.3" y="659.1" font-size="4.8" text-anchor="middle" fill="#3d4249" font-weight="bold" stroke="#3d4249" stroke-width="0.22" >1.25</text><rect x="173.40" y="645.75" width="8.10" height="0.25" fill="#8dcbed" /><rect x="182.50" y="639.19" width="8.10" height="6.81" fill="#b8babf" /><text x="177.5" y="645.2" font-size="4.75" text-anchor="middle" fill="#2580b0" font-weight="bold" stroke="#2580b0" stroke-width="0.22" >0.3</text><text x="186.5" y="638.6" font-size="4.75" text-anchor="middle" fill="#45494f" font-weight="bold" stroke="#45494f" stroke-width="0.22" >8.2</text><text x="182.0" y="652.7" font-size="4.8" text-anchor="middle" fill="#3d4249" font-weight="bold" stroke="#3d4249" stroke-width="0.22" >1.26</text><text x="182.0" y="659.1" font-size="4.8" text-anchor="middle" fill="#3d4249" font-weight="bold" stroke="#3d4249" stroke-width="0.22" >1.50</text><rect x="196.10" y="645.75" width="8.10" height="0.25" fill="#8dcbed" /><rect x="205.20" y="639.86" width="8.10" height="6.14" fill="#b8babf" /><text x="200.2" y="645.2" font-size="4.75" text-anchor="middle" fill="#2580b0" font-weight="bold" stroke="#2580b0" stroke-width="0.22" >0.3</text><text x="209.2" y="639.3" font-size="4.75" text-anchor="middle" fill="#45494f" font-weight="bold" stroke="#45494f" stroke-width="0.22" >7.4</text><text x="204.7" y="652.7" font-size="4.8" text-anchor="middle" fill="#3d4249" font-weight="bold" stroke="#3d4249" stroke-width="0.22" >1.51</text><text x="204.7" y="659.1" font-size="4.8" text-anchor="middle" fill="#3d4249" font-weight="bold" stroke="#3d4249" stroke-width="0.22" >2.00</text><rect x="218.80" y="645.75" width="8.10" height="0.25" fill="#8dcbed" /><rect x="227.90" y="640.27" width="8.10" height="5.73" fill="#b8babf" /><text x="222.9" y="645.2" font-size="4.75" text-anchor="middle" fill="#2580b0" font-weight="bold" stroke="#2580b0" stroke-width="0.22" >0.3</text><text x="231.9" y="639.7" font-size="4.75" text-anchor="middle" fill="#45494f" font-weight="bold" stroke="#45494f" stroke-width="0.22" >6.9</text><text x="227.4" y="652.7" font-size="4.8" text-anchor="middle" fill="#3d4249" font-weight="bold" stroke="#3d4249" stroke-width="0.22" >2.01</text><text x="227.4" y="659.1" font-size="4.8" text-anchor="middle" fill="#3d4249" font-weight="bold" stroke="#3d4249" stroke-width="0.22" >3.00</text><rect x="241.50" y="646.00" width="8.10" height="0.00" fill="#8dcbed" /><rect x="250.60" y="644.84" width="8.10" height="1.16" fill="#b8babf" /><text x="245.6" y="645.4" font-size="4.75" text-anchor="middle" fill="#2580b0" font-weight="bold" stroke="#2580b0" stroke-width="0.22" >0.0</text><text x="254.6" y="644.2" font-size="4.75" text-anchor="middle" fill="#45494f" font-weight="bold" stroke="#45494f" stroke-width="0.22" >1.4</text><text x="250.1" y="652.7" font-size="4.8" text-anchor="middle" fill="#3d4249" font-weight="bold" stroke="#3d4249" stroke-width="0.22" >&gt;</text><text x="250.1" y="659.1" font-size="4.8" text-anchor="middle" fill="#3d4249" font-weight="bold" stroke="#3d4249" stroke-width="0.22" >3.00</text><line x1="57.4" y1="646.0" x2="260.5" y2="646.0" stroke="#687787" stroke-width="1.2" /><text x="260.5" y="665.2" font-size="4.6" text-anchor="end" fill="#3d4249" font-weight="bold" stroke="#3d4249" stroke-width="0.22" >REFRACTIVE ASTIGMATISM (D)</text><text x="384.4" y="528.1" font-size="4.6" text-anchor="start" fill="#3d4249" font-weight="bold" stroke="#3d4249" stroke-width="0.22" >SIA VECTOR (D)</text><line x1="414.2" y1="531.0" x2="414.2" y2="649.8" stroke="#e3e6ea" stroke-width="0.6" /><line x1="394.6" y1="630.1" x2="515.0" y2="630.1" stroke="#e3e6ea" stroke-width="0.6" /><line x1="433.9" y1="531.0" x2="433.9" y2="649.8" stroke="#e3e6ea" stroke-width="0.6" /><line x1="394.6" y1="610.5" x2="515.0" y2="610.5" stroke="#e3e6ea" stroke-width="0.6" /><line x1="453.6" y1="531.0" x2="453.6" y2="649.8" stroke="#e3e6ea" stroke-width="0.6" /><line x1="394.6" y1="590.8" x2="515.0" y2="590.8" stroke="#e3e6ea" stroke-width="0.6" /><line x1="473.2" y1="531.0" x2="473.2" y2="649.8" stroke="#e3e6ea" stroke-width="0.6" /><line x1="394.6" y1="571.2" x2="515.0" y2="571.2" stroke="#e3e6ea" stroke-width="0.6" /><line x1="492.9" y1="531.0" x2="492.9" y2="649.8" stroke="#e3e6ea" stroke-width="0.6" /><line x1="394.6" y1="551.5" x2="515.0" y2="551.5" stroke="#e3e6ea" stroke-width="0.6" /><line x1="512.5" y1="531.0" x2="512.5" y2="649.8" stroke="#e3e6ea" stroke-width="0.6" /><line x1="394.6" y1="531.9" x2="515.0" y2="531.9" stroke="#e3e6ea" stroke-width="0.6" /><text x="394.6" y="657.0" font-size="4.6" text-anchor="middle" fill="#3d4249" font-weight="bold" stroke="#3d4249" stroke-width="0.22" >0</text><text x="391.1" y="651.5" font-size="4.6" text-anchor="end" fill="#3d4249" font-weight="bold" stroke="#3d4249" stroke-width="0.22" >0</text><text x="433.9" y="657.0" font-size="4.6" text-anchor="middle" fill="#3d4249" font-weight="bold" stroke="#3d4249" stroke-width="0.22" >2</text><text x="391.1" y="612.2" font-size="4.6" text-anchor="end" fill="#3d4249" font-weight="bold" stroke="#3d4249" stroke-width="0.22" >2</text><text x="473.2" y="657.0" font-size="4.6" text-anchor="middle" fill="#3d4249" font-weight="bold" stroke="#3d4249" stroke-width="0.22" >4</text><text x="391.1" y="572.9" font-size="4.6" text-anchor="end" fill="#3d4249" font-weight="bold" stroke="#3d4249" stroke-width="0.22" >4</text><text x="512.5" y="657.0" font-size="4.6" text-anchor="middle" fill="#3d4249" font-weight="bold" stroke="#3d4249" stroke-width="0.22" >6</text><text x="391.1" y="533.6" font-size="4.6" text-anchor="end" fill="#3d4249" font-weight="bold" stroke="#3d4249" stroke-width="0.22" >6</text><text x="513.6" y="666.1" font-size="4.6" text-anchor="end" fill="#3d4249" font-weight="bold" stroke="#3d4249" stroke-width="0.22" >TIA VECTOR (D)</text><line x1="394.6" y1="630.1" x2="492.9" y2="531.9" stroke="#f0cc6e" stroke-width="1.1" /><line x1="414.2" y1="649.8" x2="512.5" y2="551.5" stroke="#f0cc6e" stroke-width="1.1" /><g fill="#a4edf3"><circle cx="399.5" cy="646.9" r="2.5"/><circle cx="399.5" cy="643.7" r="2.5"/><circle cx="399.5" cy="640.6" r="2.5"/><circle cx="399.5" cy="637.4" r="2.5"/><circle cx="399.5" cy="634.3" r="2.5"/><circle cx="399.5" cy="631.1" r="2.5"/><circle cx="404.4" cy="645.9" r="2.5"/><circle cx="404.4" cy="642.7" r="2.5"/><circle cx="404.4" cy="639.6" r="2.5"/><circle cx="404.4" cy="636.4" r="2.5"/><circle cx="404.4" cy="633.3" r="2.5"/><circle cx="404.4" cy="630.1" r="2.5"/><circle cx="404.4" cy="627.0" r="2.5"/><circle cx="404.4" cy="623.9" r="2.5"/><circle cx="409.3" cy="644.9" r="2.5"/><circle cx="409.3" cy="641.7" r="2.5"/><circle cx="409.3" cy="638.6" r="2.5"/><circle cx="409.3" cy="635.5" r="2.5"/><circle cx="409.3" cy="632.3" r="2.5"/><circle cx="409.3" cy="629.2" r="2.5"/><circle cx="409.3" cy="626.0" r="2.5"/><circle cx="409.3" cy="622.9" r="2.5"/><circle cx="414.2" cy="642.9" r="2.5"/><circle cx="414.2" cy="639.8" r="2.5"/><circle cx="414.2" cy="636.6" r="2.5"/><circle cx="414.2" cy="633.5" r="2.5"/><circle cx="414.2" cy="630.3" r="2.5"/><circle cx="414.2" cy="627.2" r="2.5"/><circle cx="414.2" cy="624.1" r="2.5"/><circle cx="414.2" cy="620.9" r="2.5"/><circle cx="414.2" cy="617.8" r="2.5"/><circle cx="414.2" cy="614.6" r="2.5"/><circle cx="419.2" cy="641.0" r="2.5"/><circle cx="419.2" cy="637.8" r="2.5"/><circle cx="419.2" cy="634.7" r="2.5"/><circle cx="419.2" cy="631.5" r="2.5"/><circle cx="419.2" cy="628.4" r="2.5"/><circle cx="419.2" cy="625.2" r="2.5"/><circle cx="419.2" cy="622.1" r="2.5"/><circle cx="419.2" cy="618.9" r="2.5"/><circle cx="419.2" cy="615.8" r="2.5"/><circle cx="419.2" cy="612.7" r="2.5"/><circle cx="424.1" cy="638.0" r="2.5"/><circle cx="424.1" cy="634.9" r="2.5"/><circle cx="424.1" cy="631.7" r="2.5"/><circle cx="424.1" cy="628.6" r="2.5"/><circle cx="424.1" cy="625.4" r="2.5"/><circle cx="424.1" cy="622.3" r="2.5"/><circle cx="424.1" cy="619.1" r="2.5"/><circle cx="424.1" cy="616.0" r="2.5"/><circle cx="424.1" cy="612.9" r="2.5"/><circle cx="424.1" cy="609.7" r="2.5"/><circle cx="429.0" cy="626.2" r="2.5"/><circle cx="429.0" cy="623.1" r="2.5"/><circle cx="429.0" cy="619.9" r="2.5"/><circle cx="429.0" cy="616.8" r="2.5"/><circle cx="429.0" cy="613.6" r="2.5"/><circle cx="429.0" cy="610.5" r="2.5"/><circle cx="429.0" cy="607.4" r="2.5"/><circle cx="433.9" cy="628.2" r="2.5"/><circle cx="433.9" cy="625.0" r="2.5"/><circle cx="433.9" cy="621.9" r="2.5"/><circle cx="433.9" cy="618.8" r="2.5"/><circle cx="433.9" cy="615.6" r="2.5"/><circle cx="433.9" cy="612.5" r="2.5"/><circle cx="433.9" cy="609.3" r="2.5"/><circle cx="433.9" cy="606.2" r="2.5"/><circle cx="433.9" cy="603.0" r="2.5"/><circle cx="438.8" cy="616.4" r="2.5"/><circle cx="438.8" cy="613.3" r="2.5"/><circle cx="438.8" cy="610.1" r="2.5"/><circle cx="438.8" cy="607.0" r="2.5"/><circle cx="438.8" cy="603.8" r="2.5"/><circle cx="438.8" cy="600.7" r="2.5"/><circle cx="443.7" cy="615.4" r="2.5"/><circle cx="443.7" cy="612.3" r="2.5"/><circle cx="443.7" cy="609.1" r="2.5"/><circle cx="443.7" cy="606.0" r="2.5"/><circle cx="443.7" cy="602.8" r="2.5"/><circle cx="443.7" cy="599.7" r="2.5"/><circle cx="448.6" cy="614.4" r="2.5"/><circle cx="448.6" cy="611.3" r="2.5"/><circle cx="448.6" cy="608.1" r="2.5"/><circle cx="448.6" cy="605.0" r="2.5"/><circle cx="438.6" cy="569.8" r="2.5"/><circle cx="438.6" cy="583.0" r="2.5"/><circle cx="459.1" cy="574.5" r="2.5"/><circle cx="478.1" cy="568.6" r="2.5"/><circle cx="483.6" cy="568.6" r="2.5"/><circle cx="449.6" cy="586.9" r="2.5"/><circle cx="438.6" cy="591.0" r="2.5"/><circle cx="433.5" cy="589.9" r="2.5"/><circle cx="443.7" cy="600.7" r="2.5"/><circle cx="454.9" cy="607.2" r="2.5"/><circle cx="459.1" cy="607.2" r="2.5"/><circle cx="409.3" cy="607.2" r="2.5"/><circle cx="399.1" cy="621.1" r="2.5"/><circle cx="429.6" cy="601.3" r="2.5"/><circle cx="414.2" cy="608.5" r="2.5"/><circle cx="419.2" cy="646.9" r="2.5"/><circle cx="433.9" cy="635.1" r="2.5"/><circle cx="404.4" cy="648.8" r="2.5"/></g><g><circle cx="399.5" cy="646.9" r="1.3" fill="#2a98aa"/><circle cx="399.5" cy="634.3" r="1.3" fill="#2a98aa"/><circle cx="399.5" cy="631.1" r="1.3" fill="#2a98aa"/><circle cx="404.4" cy="645.9" r="1.3" fill="#2a98aa"/><circle cx="404.4" cy="642.7" r="1.3" fill="#2a98aa"/><circle cx="404.4" cy="630.1" r="1.3" fill="#2a98aa"/><circle cx="404.4" cy="627.0" r="1.3" fill="#2a98aa"/><circle cx="404.4" cy="623.9" r="1.3" fill="#2a98aa"/><circle cx="409.3" cy="644.9" r="1.3" fill="#2a98aa"/><circle cx="409.3" cy="641.7" r="1.3" fill="#2a98aa"/><circle cx="409.3" cy="638.6" r="1.3" fill="#2a98aa"/><circle cx="409.3" cy="626.0" r="1.3" fill="#2a98aa"/><circle cx="409.3" cy="622.9" r="1.3" fill="#2a98aa"/><circle cx="414.2" cy="642.9" r="1.3" fill="#2a98aa"/><circle cx="414.2" cy="639.8" r="1.3" fill="#2a98aa"/><circle cx="414.2" cy="636.6" r="1.3" fill="#2a98aa"/><circle cx="414.2" cy="620.9" r="1.3" fill="#2a98aa"/><circle cx="414.2" cy="617.8" r="1.3" fill="#2a98aa"/><circle cx="414.2" cy="614.6" r="1.3" fill="#2a98aa"/><circle cx="419.2" cy="641.0" r="1.3" fill="#2a98aa"/><circle cx="419.2" cy="637.8" r="1.3" fill="#2a98aa"/><circle cx="419.2" cy="634.7" r="1.3" fill="#2a98aa"/><circle cx="419.2" cy="631.5" r="1.3" fill="#2a98aa"/><circle cx="419.2" cy="615.8" r="1.3" fill="#2a98aa"/><circle cx="419.2" cy="612.7" r="1.3" fill="#2a98aa"/><circle cx="424.1" cy="638.0" r="1.3" fill="#2a98aa"/><circle cx="424.1" cy="634.9" r="1.3" fill="#2a98aa"/><circle cx="424.1" cy="631.7" r="1.3" fill="#2a98aa"/><circle cx="424.1" cy="628.6" r="1.3" fill="#2a98aa"/><circle cx="424.1" cy="612.9" r="1.3" fill="#2a98aa"/><circle cx="424.1" cy="609.7" r="1.3" fill="#2a98aa"/><circle cx="429.0" cy="626.2" r="1.3" fill="#2a98aa"/><circle cx="429.0" cy="623.1" r="1.3" fill="#2a98aa"/><circle cx="429.0" cy="610.5" r="1.3" fill="#2a98aa"/><circle cx="429.0" cy="607.4" r="1.3" fill="#2a98aa"/><circle cx="433.9" cy="628.2" r="1.3" fill="#2a98aa"/><circle cx="433.9" cy="625.0" r="1.3" fill="#2a98aa"/><circle cx="433.9" cy="621.9" r="1.3" fill="#2a98aa"/><circle cx="433.9" cy="618.8" r="1.3" fill="#2a98aa"/><circle cx="433.9" cy="606.2" r="1.3" fill="#2a98aa"/><circle cx="433.9" cy="603.0" r="1.3" fill="#2a98aa"/><circle cx="438.8" cy="616.4" r="1.3" fill="#2a98aa"/><circle cx="438.8" cy="600.7" r="1.3" fill="#2a98aa"/><circle cx="443.7" cy="615.4" r="1.3" fill="#2a98aa"/><circle cx="443.7" cy="612.3" r="1.3" fill="#2a98aa"/><circle cx="448.6" cy="614.4" r="1.3" fill="#2a98aa"/><circle cx="448.6" cy="611.3" r="1.3" fill="#2a98aa"/><circle cx="448.6" cy="608.1" r="1.3" fill="#2a98aa"/><circle cx="438.6" cy="569.8" r="1.3" fill="#2a98aa"/><circle cx="438.6" cy="583.0" r="1.3" fill="#2a98aa"/><circle cx="459.1" cy="574.5" r="1.3" fill="#2a98aa"/><circle cx="478.1" cy="568.6" r="1.3" fill="#2a98aa"/><circle cx="449.6" cy="586.9" r="1.3" fill="#2a98aa"/><circle cx="438.6" cy="591.0" r="1.3" fill="#2a98aa"/><circle cx="433.5" cy="589.9" r="1.3" fill="#2a98aa"/><circle cx="454.9" cy="607.2" r="1.3" fill="#2a98aa"/><circle cx="459.1" cy="607.2" r="1.3" fill="#2a98aa"/><circle cx="409.3" cy="607.2" r="1.3" fill="#2a98aa"/><circle cx="399.1" cy="621.1" r="1.3" fill="#2a98aa"/><circle cx="429.6" cy="601.3" r="1.3" fill="#2a98aa"/><circle cx="414.2" cy="608.5" r="1.3" fill="#2a98aa"/><circle cx="419.2" cy="646.9" r="1.3" fill="#2a98aa"/><circle cx="433.9" cy="635.1" r="1.3" fill="#2a98aa"/><circle cx="404.4" cy="648.8" r="1.3" fill="#2a98aa"/><circle cx="399.5" cy="643.7" r="1.3" fill="#3a7cbc"/><circle cx="399.5" cy="640.6" r="1.3" fill="#3a7cbc"/><circle cx="399.5" cy="637.4" r="1.3" fill="#3a7cbc"/><circle cx="404.4" cy="639.6" r="1.3" fill="#3a7cbc"/><circle cx="404.4" cy="636.4" r="1.3" fill="#3a7cbc"/><circle cx="404.4" cy="633.3" r="1.3" fill="#3a7cbc"/><circle cx="409.3" cy="635.5" r="1.3" fill="#3a7cbc"/><circle cx="409.3" cy="632.3" r="1.3" fill="#3a7cbc"/><circle cx="409.3" cy="629.2" r="1.3" fill="#3a7cbc"/><circle cx="414.2" cy="633.5" r="1.3" fill="#3a7cbc"/><circle cx="414.2" cy="630.3" r="1.3" fill="#3a7cbc"/><circle cx="414.2" cy="627.2" r="1.3" fill="#3a7cbc"/><circle cx="414.2" cy="624.1" r="1.3" fill="#3a7cbc"/><circle cx="419.2" cy="628.4" r="1.3" fill="#3a7cbc"/><circle cx="419.2" cy="625.2" r="1.3" fill="#3a7cbc"/><circle cx="419.2" cy="622.1" r="1.3" fill="#3a7cbc"/><circle cx="419.2" cy="618.9" r="1.3" fill="#3a7cbc"/><circle cx="424.1" cy="625.4" r="1.3" fill="#3a7cbc"/><circle cx="424.1" cy="622.3" r="1.3" fill="#3a7cbc"/><circle cx="424.1" cy="619.1" r="1.3" fill="#3a7cbc"/><circle cx="424.1" cy="616.0" r="1.3" fill="#3a7cbc"/><circle cx="429.0" cy="619.9" r="1.3" fill="#3a7cbc"/><circle cx="429.0" cy="616.8" r="1.3" fill="#3a7cbc"/><circle cx="429.0" cy="613.6" r="1.3" fill="#3a7cbc"/><circle cx="433.9" cy="615.6" r="1.3" fill="#3a7cbc"/><circle cx="433.9" cy="612.5" r="1.3" fill="#3a7cbc"/><circle cx="433.9" cy="609.3" r="1.3" fill="#3a7cbc"/><circle cx="438.8" cy="613.3" r="1.3" fill="#3a7cbc"/><circle cx="438.8" cy="610.1" r="1.3" fill="#3a7cbc"/><circle cx="438.8" cy="607.0" r="1.3" fill="#3a7cbc"/><circle cx="438.8" cy="603.8" r="1.3" fill="#3a7cbc"/><circle cx="443.7" cy="609.1" r="1.3" fill="#3a7cbc"/><circle cx="443.7" cy="606.0" r="1.3" fill="#3a7cbc"/><circle cx="443.7" cy="602.8" r="1.3" fill="#3a7cbc"/><circle cx="443.7" cy="599.7" r="1.3" fill="#3a7cbc"/><circle cx="448.6" cy="605.0" r="1.3" fill="#3a7cbc"/><circle cx="483.6" cy="568.6" r="1.3" fill="#3a7cbc"/><circle cx="443.7" cy="600.7" r="1.3" fill="#3a7cbc"/></g><line x1="394.6" y1="640.0" x2="502.7" y2="531.9" stroke="#3cbccb" stroke-width="1.0" /><line x1="404.4" y1="649.8" x2="512.5" y2="541.7" stroke="#3cbccb" stroke-width="1.0" /><line x1="394.6" y1="649.8" x2="512.5" y2="531.9" stroke="#2f3c66" stroke-width="1.0" /><line x1="394.6" y1="644.4" x2="485.0" y2="571.8" stroke="#a03a5c" stroke-width="0.9" /><line x1="485.0" y1="571.8" x2="512.5" y2="549.7" stroke="#a03a5c" stroke-width="0.7" stroke-dasharray="2,2"/><line x1="453.9" y1="591.5" x2="453.9" y2="598.5" stroke="#3a5a9a" stroke-width="1.0" /><rect x="400.6" y="539.2" width="49.2" height="12.2" fill="#7d8087"/><text x="425.2" y="547.5" font-size="6.2" text-anchor="middle" fill="#eceef0" font-weight="normal" >overcorrected</text><rect x="452.3" y="632.6" width="55.7" height="12.1" fill="#7d8087"/><text x="480.2" y="640.9" font-size="6.2" text-anchor="middle" fill="#eceef0" font-weight="normal" >undercorrected</text><text x="639.4" y="526.7" font-size="4.6" text-anchor="start" fill="#3d4249" font-weight="bold" stroke="#3d4249" stroke-width="0.22" >ANGLE OF ERROR (DEGREES)</text><line x1="682.0" y1="533.0" x2="682.0" y2="656.0" stroke="#e2e5e9" stroke-width="0.8" /><line x1="699.3" y1="533.0" x2="699.3" y2="656.0" stroke="#e2e5e9" stroke-width="0.8" /><line x1="716.5" y1="533.0" x2="716.5" y2="656.0" stroke="#e2e5e9" stroke-width="0.8" /><line x1="733.8" y1="533.0" x2="733.8" y2="656.0" stroke="#e2e5e9" stroke-width="0.8" /><line x1="751.0" y1="533.0" x2="751.0" y2="656.0" stroke="#e2e5e9" stroke-width="0.8" /><text x="664.8" y="662.8" font-size="4.6" text-anchor="middle" fill="#3d4249" font-weight="bold" stroke="#3d4249" stroke-width="0.22" >0</text><text x="682.0" y="662.8" font-size="4.6" text-anchor="middle" fill="#3d4249" font-weight="bold" stroke="#3d4249" stroke-width="0.22" >20</text><text x="699.3" y="662.8" font-size="4.6" text-anchor="middle" fill="#3d4249" font-weight="bold" stroke="#3d4249" stroke-width="0.22" >40</text><text x="716.5" y="662.8" font-size="4.6" text-anchor="middle" fill="#3d4249" font-weight="bold" stroke="#3d4249" stroke-width="0.22" >60</text><text x="733.8" y="662.8" font-size="4.6" text-anchor="middle" fill="#3d4249" font-weight="bold" stroke="#3d4249" stroke-width="0.22" >80</text><text x="751.0" y="662.8" font-size="4.6" text-anchor="middle" fill="#3d4249" font-weight="bold" stroke="#3d4249" stroke-width="0.22" >100</text><text x="766.0" y="670.7" font-size="4.6" text-anchor="end" fill="#3d4249" font-weight="bold" stroke="#3d4249" stroke-width="0.22" >% OF EYES</text><rect x="664.80" y="534.70" width="0.00" height="5.20" fill="#a9cce3" /><text x="662.2" y="538.9" font-size="4.5" text-anchor="end" fill="#3d4249" font-weight="bold" stroke="#3d4249" stroke-width="0.22" >&gt;75</text><text x="667.3" y="539.0" font-size="4.75" text-anchor="start" fill="#2580b0" font-weight="bold" stroke="#2580b0" stroke-width="0.22" >0.0</text><rect x="664.80" y="541.85" width="0.00" height="5.20" fill="#a9cce3" /><text x="662.2" y="546.1" font-size="4.5" text-anchor="end" fill="#3d4249" font-weight="bold" stroke="#3d4249" stroke-width="0.22" >65 to 75</text><text x="667.3" y="546.2" font-size="4.75" text-anchor="start" fill="#2580b0" font-weight="bold" stroke="#2580b0" stroke-width="0.22" >0.0</text><rect x="664.80" y="549.00" width="0.00" height="5.20" fill="#a9cce3" /><text x="662.2" y="553.2" font-size="4.5" text-anchor="end" fill="#3d4249" font-weight="bold" stroke="#3d4249" stroke-width="0.22" >55 to 65</text><text x="667.3" y="553.3" font-size="4.75" text-anchor="start" fill="#2580b0" font-weight="bold" stroke="#2580b0" stroke-width="0.22" >0.0</text><rect x="664.80" y="556.15" width="0.00" height="5.20" fill="#a9cce3" /><text x="662.2" y="560.4" font-size="4.5" text-anchor="end" fill="#3d4249" font-weight="bold" stroke="#3d4249" stroke-width="0.22" >45 to 55</text><text x="667.3" y="560.5" font-size="4.75" text-anchor="start" fill="#2580b0" font-weight="bold" stroke="#2580b0" stroke-width="0.22" >0.0</text><rect x="664.80" y="563.30" width="0.00" height="5.20" fill="#a9cce3" /><text x="662.2" y="567.5" font-size="4.5" text-anchor="end" fill="#3d4249" font-weight="bold" stroke="#3d4249" stroke-width="0.22" >35 to 45</text><text x="667.3" y="567.6" font-size="4.75" text-anchor="start" fill="#2580b0" font-weight="bold" stroke="#2580b0" stroke-width="0.22" >0.0</text><rect x="664.80" y="570.45" width="0.95" height="5.20" fill="#a9cce3" /><text x="662.2" y="574.7" font-size="4.5" text-anchor="end" fill="#3d4249" font-weight="bold" stroke="#3d4249" stroke-width="0.22" >25 to 35</text><text x="668.2" y="574.8" font-size="4.75" text-anchor="start" fill="#2580b0" font-weight="bold" stroke="#2580b0" stroke-width="0.22" >1.1</text><rect x="664.80" y="577.60" width="2.24" height="5.20" fill="#a9cce3" /><text x="662.2" y="581.8" font-size="4.5" text-anchor="end" fill="#3d4249" font-weight="bold" stroke="#3d4249" stroke-width="0.22" >15 to 25</text><text x="669.5" y="581.9" font-size="4.75" text-anchor="start" fill="#2580b0" font-weight="bold" stroke="#2580b0" stroke-width="0.22" >2.6</text><rect x="664.80" y="584.75" width="10.52" height="5.20" fill="#a9cce3" /><text x="662.2" y="589.0" font-size="4.5" text-anchor="end" fill="#3d4249" font-weight="bold" stroke="#3d4249" stroke-width="0.22" >5 to 15</text><text x="677.8" y="589.1" font-size="4.75" text-anchor="start" fill="#2580b0" font-weight="bold" stroke="#2580b0" stroke-width="0.22" >12.2</text><rect x="664.80" y="591.90" width="38.62" height="5.20" fill="#a9cce3" /><text x="662.2" y="596.1" font-size="4.5" text-anchor="end" fill="#3d4249" font-weight="bold" stroke="#3d4249" stroke-width="0.22" >-5 to 5</text><text x="705.9" y="596.2" font-size="4.75" text-anchor="start" fill="#2580b0" font-weight="bold" stroke="#2580b0" stroke-width="0.22" >44.8</text><rect x="664.80" y="599.05" width="20.77" height="5.20" fill="#a9cce3" /><text x="662.2" y="603.3" font-size="4.5" text-anchor="end" fill="#3d4249" font-weight="bold" stroke="#3d4249" stroke-width="0.22" >-15 to -5</text><text x="688.1" y="603.4" font-size="4.75" text-anchor="start" fill="#2580b0" font-weight="bold" stroke="#2580b0" stroke-width="0.22" >24.1</text><rect x="664.80" y="606.20" width="5.52" height="5.20" fill="#a9cce3" /><text x="662.2" y="610.4" font-size="4.5" text-anchor="end" fill="#3d4249" font-weight="bold" stroke="#3d4249" stroke-width="0.22" >-25 to -15</text><text x="672.8" y="610.5" font-size="4.75" text-anchor="start" fill="#2580b0" font-weight="bold" stroke="#2580b0" stroke-width="0.22" >6.4</text><rect x="664.80" y="613.35" width="3.02" height="5.20" fill="#a9cce3" /><text x="662.2" y="617.6" font-size="4.5" text-anchor="end" fill="#3d4249" font-weight="bold" stroke="#3d4249" stroke-width="0.22" >-35 to -25</text><text x="670.3" y="617.7" font-size="4.75" text-anchor="start" fill="#2580b0" font-weight="bold" stroke="#2580b0" stroke-width="0.22" >3.5</text><rect x="664.80" y="620.50" width="0.00" height="5.20" fill="#a9cce3" /><text x="662.2" y="624.7" font-size="4.5" text-anchor="end" fill="#3d4249" font-weight="bold" stroke="#3d4249" stroke-width="0.22" >-45 to -35</text><text x="667.3" y="624.8" font-size="4.75" text-anchor="start" fill="#2580b0" font-weight="bold" stroke="#2580b0" stroke-width="0.22" >0.0</text><rect x="664.80" y="627.65" width="0.00" height="5.20" fill="#a9cce3" /><text x="662.2" y="631.9" font-size="4.5" text-anchor="end" fill="#3d4249" font-weight="bold" stroke="#3d4249" stroke-width="0.22" >-55 to -45</text><text x="667.3" y="632.0" font-size="4.75" text-anchor="start" fill="#2580b0" font-weight="bold" stroke="#2580b0" stroke-width="0.22" >0.0</text><rect x="664.80" y="634.80" width="0.00" height="5.20" fill="#a9cce3" /><text x="662.2" y="639.0" font-size="4.5" text-anchor="end" fill="#3d4249" font-weight="bold" stroke="#3d4249" stroke-width="0.22" >-65 to -55</text><text x="667.3" y="639.1" font-size="4.75" text-anchor="start" fill="#2580b0" font-weight="bold" stroke="#2580b0" stroke-width="0.22" >0.0</text><rect x="664.80" y="641.95" width="0.00" height="5.20" fill="#a9cce3" /><text x="662.2" y="646.2" font-size="4.5" text-anchor="end" fill="#3d4249" font-weight="bold" stroke="#3d4249" stroke-width="0.22" >-75 to -65</text><text x="667.3" y="646.3" font-size="4.75" text-anchor="start" fill="#2580b0" font-weight="bold" stroke="#2580b0" stroke-width="0.22" >0.0</text><rect x="664.80" y="649.10" width="0.00" height="5.20" fill="#a9cce3" /><text x="662.2" y="653.3" font-size="4.5" text-anchor="end" fill="#3d4249" font-weight="bold" stroke="#3d4249" stroke-width="0.22" >&lt;-75</text><text x="667.3" y="653.4" font-size="4.75" text-anchor="start" fill="#2580b0" font-weight="bold" stroke="#2580b0" stroke-width="0.22" >0.0</text><line x1="664.8" y1="533.0" x2="664.8" y2="656.0" stroke="#687787" stroke-width="1.0" /><rect x="726" y="541.8" width="34" height="12.1" fill="#7d8087"/><text x="743.0" y="550.1" font-size="6.2" text-anchor="middle" fill="#eceef0" font-weight="normal" >CC/Wise</text><rect x="726" y="639.4" width="34" height="12.3" fill="#7d8087"/><text x="743.0" y="647.8" font-size="6.2" text-anchor="middle" fill="#eceef0" font-weight="normal" >C/Wise</text></svg>
</body></html>
